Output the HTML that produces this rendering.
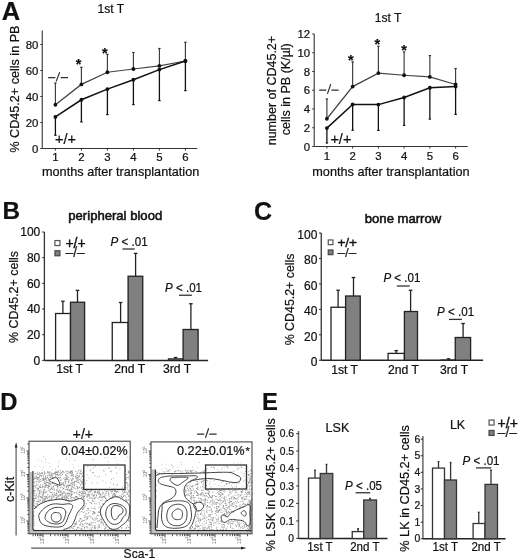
<!DOCTYPE html>
<html><head><meta charset="utf-8"><style>
html,body{margin:0;padding:0;background:#fff;}
svg{display:block;filter:blur(0.35px);font-family:"Liberation Sans",sans-serif;}
text{stroke:#111;stroke-width:0.22px;}
</style></head><body>
<svg width="520" height="560" viewBox="0 0 520 560" font-family="Liberation Sans, sans-serif"><text x="1.80" y="20.30" font-size="25.5" text-anchor="start" font-weight="bold" fill="#111"  >A</text>
<text x="2.50" y="218.50" font-size="24.3" text-anchor="start" font-weight="bold" fill="#111"  >B</text>
<text x="254.00" y="220.00" font-size="25" text-anchor="start" font-weight="bold" fill="#111"  >C</text>
<text x="0.30" y="409.60" font-size="23.8" text-anchor="start" font-weight="bold" fill="#111"  >D</text>
<text x="261.90" y="409.60" font-size="23.8" text-anchor="start" font-weight="bold" fill="#111"  >E</text>
<line x1="42.25" y1="30.60" x2="42.25" y2="148.50" stroke="#333" stroke-width="1.1" />
<line x1="42.25" y1="148.50" x2="197.25" y2="148.50" stroke="#333" stroke-width="1.1" />
<line x1="40.25" y1="148.50" x2="42.25" y2="148.50" stroke="#333" stroke-width="1" />
<text x="38.30" y="152.50" font-size="11.4" text-anchor="end" font-weight="normal" fill="#111"  >0</text>
<line x1="40.25" y1="122.50" x2="42.25" y2="122.50" stroke="#333" stroke-width="1" />
<text x="38.30" y="126.50" font-size="11.4" text-anchor="end" font-weight="normal" fill="#111"  >20</text>
<line x1="40.25" y1="96.50" x2="42.25" y2="96.50" stroke="#333" stroke-width="1" />
<text x="38.30" y="100.50" font-size="11.4" text-anchor="end" font-weight="normal" fill="#111"  >40</text>
<line x1="40.25" y1="70.50" x2="42.25" y2="70.50" stroke="#333" stroke-width="1" />
<text x="38.30" y="74.50" font-size="11.4" text-anchor="end" font-weight="normal" fill="#111"  >60</text>
<line x1="40.25" y1="44.50" x2="42.25" y2="44.50" stroke="#333" stroke-width="1" />
<text x="38.30" y="48.50" font-size="11.4" text-anchor="end" font-weight="normal" fill="#111"  >80</text>
<line x1="55.40" y1="148.50" x2="55.40" y2="150.50" stroke="#333" stroke-width="1" />
<text x="55.40" y="161.40" font-size="11.4" text-anchor="middle" font-weight="normal" fill="#111"  >1</text>
<line x1="81.40" y1="148.50" x2="81.40" y2="150.50" stroke="#333" stroke-width="1" />
<text x="81.40" y="161.40" font-size="11.4" text-anchor="middle" font-weight="normal" fill="#111"  >2</text>
<line x1="107.40" y1="148.50" x2="107.40" y2="150.50" stroke="#333" stroke-width="1" />
<text x="107.40" y="161.40" font-size="11.4" text-anchor="middle" font-weight="normal" fill="#111"  >3</text>
<line x1="133.40" y1="148.50" x2="133.40" y2="150.50" stroke="#333" stroke-width="1" />
<text x="133.40" y="161.40" font-size="11.4" text-anchor="middle" font-weight="normal" fill="#111"  >4</text>
<line x1="159.40" y1="148.50" x2="159.40" y2="150.50" stroke="#333" stroke-width="1" />
<text x="159.40" y="161.40" font-size="11.4" text-anchor="middle" font-weight="normal" fill="#111"  >5</text>
<line x1="185.40" y1="148.50" x2="185.40" y2="150.50" stroke="#333" stroke-width="1" />
<text x="185.40" y="161.40" font-size="11.4" text-anchor="middle" font-weight="normal" fill="#111"  >6</text>
<text x="42.00" y="175.60" font-size="12.7" text-anchor="start" font-weight="normal" fill="#111"  >months after transplantation</text>
<text transform="translate(18.80,89.10) rotate(-90)" font-size="12.6" text-anchor="middle" fill="#111">% CD45.2+ cells in PB</text>
<text x="97.60" y="12.90" font-size="12.1" text-anchor="start" font-weight="normal" fill="#111"  >1st T</text>
<line x1="55.40" y1="104.75" x2="55.40" y2="83.00" stroke="#3a3a3a" stroke-width="1.15" />
<line x1="54.20" y1="83.00" x2="56.60" y2="83.00" stroke="#333" stroke-width="1.2" />
<line x1="55.40" y1="116.90" x2="55.40" y2="135.25" stroke="#111" stroke-width="1.3" />
<line x1="54.20" y1="135.25" x2="56.60" y2="135.25" stroke="#111" stroke-width="1.2" />
<line x1="81.40" y1="84.40" x2="81.40" y2="67.30" stroke="#3a3a3a" stroke-width="1.15" />
<line x1="80.20" y1="67.30" x2="82.60" y2="67.30" stroke="#333" stroke-width="1.2" />
<line x1="81.40" y1="99.75" x2="81.40" y2="121.90" stroke="#111" stroke-width="1.3" />
<line x1="80.20" y1="121.90" x2="82.60" y2="121.90" stroke="#111" stroke-width="1.2" />
<line x1="107.40" y1="72.25" x2="107.40" y2="54.40" stroke="#3a3a3a" stroke-width="1.15" />
<line x1="106.20" y1="54.40" x2="108.60" y2="54.40" stroke="#333" stroke-width="1.2" />
<line x1="107.40" y1="89.10" x2="107.40" y2="114.60" stroke="#111" stroke-width="1.3" />
<line x1="106.20" y1="114.60" x2="108.60" y2="114.60" stroke="#111" stroke-width="1.2" />
<line x1="133.40" y1="69.00" x2="133.40" y2="52.50" stroke="#3a3a3a" stroke-width="1.15" />
<line x1="132.20" y1="52.50" x2="134.60" y2="52.50" stroke="#333" stroke-width="1.2" />
<line x1="133.40" y1="79.75" x2="133.40" y2="104.60" stroke="#111" stroke-width="1.3" />
<line x1="132.20" y1="104.60" x2="134.60" y2="104.60" stroke="#111" stroke-width="1.2" />
<line x1="159.40" y1="65.90" x2="159.40" y2="48.50" stroke="#3a3a3a" stroke-width="1.15" />
<line x1="158.20" y1="48.50" x2="160.60" y2="48.50" stroke="#333" stroke-width="1.2" />
<line x1="159.40" y1="69.60" x2="159.40" y2="100.60" stroke="#111" stroke-width="1.3" />
<line x1="158.20" y1="100.60" x2="160.60" y2="100.60" stroke="#111" stroke-width="1.2" />
<line x1="185.40" y1="61.00" x2="185.40" y2="42.25" stroke="#3a3a3a" stroke-width="1.15" />
<line x1="184.20" y1="42.25" x2="186.60" y2="42.25" stroke="#333" stroke-width="1.2" />
<line x1="185.40" y1="61.00" x2="185.40" y2="90.60" stroke="#111" stroke-width="1.3" />
<line x1="184.20" y1="90.60" x2="186.60" y2="90.60" stroke="#111" stroke-width="1.2" />
<polyline fill="none" stroke="#444" stroke-width="1.25" points="55.40,104.75 81.40,84.40 107.40,72.25 133.40,69.00 159.40,65.90 185.40,61.00"/>
<polyline fill="none" stroke="#111" stroke-width="1.5" points="55.40,116.90 81.40,99.75 107.40,89.10 133.40,79.75 159.40,69.60 185.40,61.00"/>
<circle cx="55.40" cy="104.75" r="1.9" fill="#111"/>
<circle cx="55.40" cy="116.90" r="1.9" fill="#111"/>
<circle cx="81.40" cy="84.40" r="1.9" fill="#111"/>
<circle cx="81.40" cy="99.75" r="1.9" fill="#111"/>
<circle cx="107.40" cy="72.25" r="1.9" fill="#111"/>
<circle cx="107.40" cy="89.10" r="1.9" fill="#111"/>
<circle cx="133.40" cy="69.00" r="1.9" fill="#111"/>
<circle cx="133.40" cy="79.75" r="1.9" fill="#111"/>
<circle cx="159.40" cy="65.90" r="1.9" fill="#111"/>
<circle cx="159.40" cy="69.60" r="1.9" fill="#111"/>
<circle cx="185.40" cy="61.00" r="1.9" fill="#111"/>
<circle cx="185.40" cy="61.00" r="1.9" fill="#111"/>
<text x="78.65" y="69.16" font-size="14.5" text-anchor="middle" font-weight="bold" fill="#111"  >*</text>
<text x="104.90" y="57.66" font-size="14.5" text-anchor="middle" font-weight="bold" fill="#111"  >*</text>
<path d="M48.1,77.5H55.3M60.6,77.5H68.0" stroke="#2e2e2e" stroke-width="1.25" fill="none"/>
<path d="M56.4,80.9L59.5,72.6" stroke="#2e2e2e" stroke-width="1.1875" fill="none" stroke-linecap="round"/>
<text x="55.10" y="144.20" font-size="14.5" text-anchor="start" font-weight="normal" fill="#111"  >+/+</text>
<line x1="314.20" y1="34.00" x2="314.20" y2="146.50" stroke="#333" stroke-width="1.1" />
<line x1="314.20" y1="146.50" x2="467.75" y2="146.50" stroke="#333" stroke-width="1.1" />
<line x1="312.20" y1="146.50" x2="314.20" y2="146.50" stroke="#333" stroke-width="1" />
<text x="310.10" y="150.50" font-size="11.4" text-anchor="end" font-weight="normal" fill="#111"  >0</text>
<line x1="312.20" y1="127.75" x2="314.20" y2="127.75" stroke="#333" stroke-width="1" />
<text x="310.10" y="131.75" font-size="11.4" text-anchor="end" font-weight="normal" fill="#111"  >2</text>
<line x1="312.20" y1="109.00" x2="314.20" y2="109.00" stroke="#333" stroke-width="1" />
<text x="310.10" y="113.00" font-size="11.4" text-anchor="end" font-weight="normal" fill="#111"  >4</text>
<line x1="312.20" y1="90.25" x2="314.20" y2="90.25" stroke="#333" stroke-width="1" />
<text x="310.10" y="94.25" font-size="11.4" text-anchor="end" font-weight="normal" fill="#111"  >6</text>
<line x1="312.20" y1="71.50" x2="314.20" y2="71.50" stroke="#333" stroke-width="1" />
<text x="310.10" y="75.50" font-size="11.4" text-anchor="end" font-weight="normal" fill="#111"  >8</text>
<line x1="312.20" y1="52.75" x2="314.20" y2="52.75" stroke="#333" stroke-width="1" />
<text x="310.10" y="56.75" font-size="11.4" text-anchor="end" font-weight="normal" fill="#111"  >10</text>
<line x1="312.20" y1="34.00" x2="314.20" y2="34.00" stroke="#333" stroke-width="1" />
<text x="310.10" y="38.00" font-size="11.4" text-anchor="end" font-weight="normal" fill="#111"  >12</text>
<line x1="326.90" y1="146.50" x2="326.90" y2="148.50" stroke="#333" stroke-width="1" />
<text x="326.90" y="160.30" font-size="11.4" text-anchor="middle" font-weight="normal" fill="#111"  >1</text>
<line x1="352.64" y1="146.50" x2="352.64" y2="148.50" stroke="#333" stroke-width="1" />
<text x="352.64" y="160.30" font-size="11.4" text-anchor="middle" font-weight="normal" fill="#111"  >2</text>
<line x1="378.38" y1="146.50" x2="378.38" y2="148.50" stroke="#333" stroke-width="1" />
<text x="378.38" y="160.30" font-size="11.4" text-anchor="middle" font-weight="normal" fill="#111"  >3</text>
<line x1="404.12" y1="146.50" x2="404.12" y2="148.50" stroke="#333" stroke-width="1" />
<text x="404.12" y="160.30" font-size="11.4" text-anchor="middle" font-weight="normal" fill="#111"  >4</text>
<line x1="429.86" y1="146.50" x2="429.86" y2="148.50" stroke="#333" stroke-width="1" />
<text x="429.86" y="160.30" font-size="11.4" text-anchor="middle" font-weight="normal" fill="#111"  >5</text>
<line x1="455.60" y1="146.50" x2="455.60" y2="148.50" stroke="#333" stroke-width="1" />
<text x="455.60" y="160.30" font-size="11.4" text-anchor="middle" font-weight="normal" fill="#111"  >6</text>
<text x="312.30" y="175.60" font-size="12.7" text-anchor="start" font-weight="normal" fill="#111"  >months after transplantation</text>
<text transform="translate(275.50,90.60) rotate(-90)" font-size="12.5" text-anchor="middle" fill="#111">number of CD45.2+</text>
<text transform="translate(289.50,89.20) rotate(-90)" font-size="12.5" text-anchor="middle" fill="#111">cells in PB (K/µl)</text>
<text x="374.80" y="22.40" font-size="12.1" text-anchor="start" font-weight="normal" fill="#111"  >1st T</text>
<line x1="326.90" y1="118.75" x2="326.90" y2="99.00" stroke="#3a3a3a" stroke-width="1.15" />
<line x1="325.70" y1="99.00" x2="328.10" y2="99.00" stroke="#333" stroke-width="1.2" />
<line x1="326.90" y1="128.10" x2="326.90" y2="143.00" stroke="#111" stroke-width="1.3" />
<line x1="325.70" y1="143.00" x2="328.10" y2="143.00" stroke="#111" stroke-width="1.2" />
<line x1="352.64" y1="86.60" x2="352.64" y2="61.90" stroke="#3a3a3a" stroke-width="1.15" />
<line x1="351.44" y1="61.90" x2="353.84" y2="61.90" stroke="#333" stroke-width="1.2" />
<line x1="352.64" y1="104.40" x2="352.64" y2="130.25" stroke="#111" stroke-width="1.3" />
<line x1="351.44" y1="130.25" x2="353.84" y2="130.25" stroke="#111" stroke-width="1.2" />
<line x1="378.38" y1="73.10" x2="378.38" y2="46.25" stroke="#3a3a3a" stroke-width="1.15" />
<line x1="377.18" y1="46.25" x2="379.58" y2="46.25" stroke="#333" stroke-width="1.2" />
<line x1="378.38" y1="104.60" x2="378.38" y2="130.40" stroke="#111" stroke-width="1.3" />
<line x1="377.18" y1="130.40" x2="379.58" y2="130.40" stroke="#111" stroke-width="1.2" />
<line x1="404.12" y1="75.25" x2="404.12" y2="51.90" stroke="#3a3a3a" stroke-width="1.15" />
<line x1="402.92" y1="51.90" x2="405.32" y2="51.90" stroke="#333" stroke-width="1.2" />
<line x1="404.12" y1="97.50" x2="404.12" y2="125.40" stroke="#111" stroke-width="1.3" />
<line x1="402.92" y1="125.40" x2="405.32" y2="125.40" stroke="#111" stroke-width="1.2" />
<line x1="429.86" y1="76.90" x2="429.86" y2="55.60" stroke="#3a3a3a" stroke-width="1.15" />
<line x1="428.66" y1="55.60" x2="431.06" y2="55.60" stroke="#333" stroke-width="1.2" />
<line x1="429.86" y1="87.75" x2="429.86" y2="119.10" stroke="#111" stroke-width="1.3" />
<line x1="428.66" y1="119.10" x2="431.06" y2="119.10" stroke="#111" stroke-width="1.2" />
<line x1="455.60" y1="84.50" x2="455.60" y2="68.50" stroke="#3a3a3a" stroke-width="1.15" />
<line x1="454.40" y1="68.50" x2="456.80" y2="68.50" stroke="#333" stroke-width="1.2" />
<line x1="455.60" y1="86.50" x2="455.60" y2="114.40" stroke="#111" stroke-width="1.3" />
<line x1="454.40" y1="114.40" x2="456.80" y2="114.40" stroke="#111" stroke-width="1.2" />
<polyline fill="none" stroke="#444" stroke-width="1.25" points="326.90,118.75 352.64,86.60 378.38,73.10 404.12,75.25 429.86,76.90 455.60,84.50"/>
<polyline fill="none" stroke="#111" stroke-width="1.5" points="326.90,128.10 352.64,104.40 378.38,104.60 404.12,97.50 429.86,87.75 455.60,86.50"/>
<circle cx="326.90" cy="118.75" r="1.9" fill="#111"/>
<circle cx="326.90" cy="128.10" r="1.9" fill="#111"/>
<circle cx="352.64" cy="86.60" r="1.9" fill="#111"/>
<circle cx="352.64" cy="104.40" r="1.9" fill="#111"/>
<circle cx="378.38" cy="73.10" r="1.9" fill="#111"/>
<circle cx="378.38" cy="104.60" r="1.9" fill="#111"/>
<circle cx="404.12" cy="75.25" r="1.9" fill="#111"/>
<circle cx="404.12" cy="97.50" r="1.9" fill="#111"/>
<circle cx="429.86" cy="76.90" r="1.9" fill="#111"/>
<circle cx="429.86" cy="87.75" r="1.9" fill="#111"/>
<circle cx="455.60" cy="84.50" r="1.9" fill="#111"/>
<circle cx="455.60" cy="86.50" r="1.9" fill="#111"/>
<text x="350.80" y="64.66" font-size="14.5" text-anchor="middle" font-weight="bold" fill="#111"  >*</text>
<text x="377.40" y="48.66" font-size="14.5" text-anchor="middle" font-weight="bold" fill="#111"  >*</text>
<text x="404.00" y="54.66" font-size="14.5" text-anchor="middle" font-weight="bold" fill="#111"  >*</text>
<path d="M319.2,90.0H326.3M331.4,90.0H338.6" stroke="#2e2e2e" stroke-width="1.25" fill="none"/>
<path d="M327.6,93.4L330.6,84.6" stroke="#2e2e2e" stroke-width="1.1875" fill="none" stroke-linecap="round"/>
<text x="330.40" y="144.10" font-size="14.5" text-anchor="start" font-weight="normal" fill="#111"  >+/+</text>
<line x1="44.40" y1="232.00" x2="44.40" y2="360.40" stroke="#333" stroke-width="1.3" />
<line x1="44.40" y1="360.40" x2="208.10" y2="360.40" stroke="#222" stroke-width="1.5" />
<line x1="42.20" y1="360.40" x2="44.40" y2="360.40" stroke="#333" stroke-width="1.1" />
<text x="40.30" y="364.66" font-size="12.0" text-anchor="end" font-weight="normal" fill="#111"  >0</text>
<line x1="42.20" y1="334.72" x2="44.40" y2="334.72" stroke="#333" stroke-width="1.1" />
<text x="40.30" y="338.98" font-size="12.0" text-anchor="end" font-weight="normal" fill="#111"  >20</text>
<line x1="42.20" y1="309.04" x2="44.40" y2="309.04" stroke="#333" stroke-width="1.1" />
<text x="40.30" y="313.30" font-size="12.0" text-anchor="end" font-weight="normal" fill="#111"  >40</text>
<line x1="42.20" y1="283.36" x2="44.40" y2="283.36" stroke="#333" stroke-width="1.1" />
<text x="40.30" y="287.62" font-size="12.0" text-anchor="end" font-weight="normal" fill="#111"  >60</text>
<line x1="42.20" y1="257.68" x2="44.40" y2="257.68" stroke="#333" stroke-width="1.1" />
<text x="40.30" y="261.94" font-size="12.0" text-anchor="end" font-weight="normal" fill="#111"  >80</text>
<line x1="42.20" y1="232.00" x2="44.40" y2="232.00" stroke="#333" stroke-width="1.1" />
<text x="40.30" y="236.26" font-size="12.0" text-anchor="end" font-weight="normal" fill="#111"  >100</text>
<line x1="62.90" y1="313.50" x2="62.90" y2="301.25" stroke="#222" stroke-width="1.3" />
<line x1="61.10" y1="301.25" x2="64.70" y2="301.25" stroke="#222" stroke-width="1.3" />
<rect x="55.60" y="313.50" width="14.90" height="46.90" fill="#fff" stroke="#222" stroke-width="1.3"/>
<line x1="77.50" y1="302.25" x2="77.50" y2="290.40" stroke="#222" stroke-width="1.3" />
<line x1="75.70" y1="290.40" x2="79.30" y2="290.40" stroke="#222" stroke-width="1.3" />
<rect x="70.50" y="302.25" width="14.10" height="58.15" fill="#808080" stroke="#222" stroke-width="1.3"/>
<line x1="120.60" y1="322.50" x2="120.60" y2="302.50" stroke="#222" stroke-width="1.3" />
<line x1="118.80" y1="302.50" x2="122.40" y2="302.50" stroke="#222" stroke-width="1.3" />
<rect x="112.25" y="322.50" width="15.85" height="37.90" fill="#fff" stroke="#222" stroke-width="1.3"/>
<line x1="135.60" y1="276.25" x2="135.60" y2="253.40" stroke="#222" stroke-width="1.3" />
<line x1="133.80" y1="253.40" x2="137.40" y2="253.40" stroke="#222" stroke-width="1.3" />
<rect x="128.10" y="276.25" width="14.65" height="84.15" fill="#808080" stroke="#222" stroke-width="1.3"/>
<line x1="175.60" y1="358.90" x2="175.60" y2="357.50" stroke="#222" stroke-width="1.3" />
<line x1="173.80" y1="357.50" x2="177.40" y2="357.50" stroke="#222" stroke-width="1.3" />
<rect x="168.50" y="358.90" width="14.60" height="1.50" fill="#fff" stroke="#222" stroke-width="1.3"/>
<line x1="190.90" y1="329.50" x2="190.90" y2="303.75" stroke="#222" stroke-width="1.3" />
<line x1="189.10" y1="303.75" x2="192.70" y2="303.75" stroke="#222" stroke-width="1.3" />
<rect x="183.10" y="329.50" width="15.00" height="30.90" fill="#808080" stroke="#222" stroke-width="1.3"/>
<text x="56.20" y="372.60" font-size="12.2" text-anchor="start" font-weight="normal" fill="#111"  >1st T</text>
<text x="114.30" y="372.60" font-size="12.2" text-anchor="start" font-weight="normal" fill="#111"  >2nd T</text>
<text x="163.00" y="372.60" font-size="12.2" text-anchor="start" font-weight="normal" fill="#111"  >3rd T</text>
<line x1="321.25" y1="233.00" x2="321.25" y2="360.25" stroke="#333" stroke-width="1.3" />
<line x1="321.25" y1="360.25" x2="483.10" y2="360.25" stroke="#222" stroke-width="1.5" />
<line x1="319.05" y1="360.25" x2="321.25" y2="360.25" stroke="#333" stroke-width="1.1" />
<text x="317.40" y="366.11" font-size="12.0" text-anchor="end" font-weight="normal" fill="#111"  >0</text>
<line x1="319.05" y1="334.80" x2="321.25" y2="334.80" stroke="#333" stroke-width="1.1" />
<text x="317.40" y="340.66" font-size="12.0" text-anchor="end" font-weight="normal" fill="#111"  >20</text>
<line x1="319.05" y1="309.35" x2="321.25" y2="309.35" stroke="#333" stroke-width="1.1" />
<text x="317.40" y="315.21" font-size="12.0" text-anchor="end" font-weight="normal" fill="#111"  >40</text>
<line x1="319.05" y1="283.90" x2="321.25" y2="283.90" stroke="#333" stroke-width="1.1" />
<text x="317.40" y="289.76" font-size="12.0" text-anchor="end" font-weight="normal" fill="#111"  >60</text>
<line x1="319.05" y1="258.45" x2="321.25" y2="258.45" stroke="#333" stroke-width="1.1" />
<text x="317.40" y="264.31" font-size="12.0" text-anchor="end" font-weight="normal" fill="#111"  >80</text>
<line x1="319.05" y1="233.00" x2="321.25" y2="233.00" stroke="#333" stroke-width="1.1" />
<text x="317.40" y="238.86" font-size="12.0" text-anchor="end" font-weight="normal" fill="#111"  >100</text>
<line x1="338.10" y1="307.25" x2="338.10" y2="290.25" stroke="#222" stroke-width="1.3" />
<line x1="336.30" y1="290.25" x2="339.90" y2="290.25" stroke="#222" stroke-width="1.3" />
<rect x="331.00" y="307.25" width="14.60" height="53.00" fill="#fff" stroke="#222" stroke-width="1.3"/>
<line x1="353.50" y1="296.00" x2="353.50" y2="277.50" stroke="#222" stroke-width="1.3" />
<line x1="351.70" y1="277.50" x2="355.30" y2="277.50" stroke="#222" stroke-width="1.3" />
<rect x="345.60" y="296.00" width="14.65" height="64.25" fill="#808080" stroke="#222" stroke-width="1.3"/>
<line x1="396.25" y1="353.40" x2="396.25" y2="350.60" stroke="#222" stroke-width="1.3" />
<line x1="394.45" y1="350.60" x2="398.05" y2="350.60" stroke="#222" stroke-width="1.3" />
<rect x="388.10" y="353.40" width="16.30" height="6.85" fill="#fff" stroke="#222" stroke-width="1.3"/>
<line x1="410.60" y1="311.50" x2="410.60" y2="290.25" stroke="#222" stroke-width="1.3" />
<line x1="408.80" y1="290.25" x2="412.40" y2="290.25" stroke="#222" stroke-width="1.3" />
<rect x="404.40" y="311.50" width="13.10" height="48.75" fill="#808080" stroke="#222" stroke-width="1.3"/>
<line x1="448.50" y1="360.10" x2="448.50" y2="358.80" stroke="#222" stroke-width="1.3" />
<line x1="446.70" y1="358.80" x2="450.30" y2="358.80" stroke="#222" stroke-width="1.3" />
<rect x="441.00" y="360.10" width="14.25" height="0.15" fill="#fff" stroke="#222" stroke-width="1.3"/>
<line x1="463.10" y1="337.50" x2="463.10" y2="323.50" stroke="#222" stroke-width="1.3" />
<line x1="461.30" y1="323.50" x2="464.90" y2="323.50" stroke="#222" stroke-width="1.3" />
<rect x="455.25" y="337.50" width="15.35" height="22.75" fill="#808080" stroke="#222" stroke-width="1.3"/>
<text x="331.20" y="374.20" font-size="12.2" text-anchor="start" font-weight="normal" fill="#111"  >1st T</text>
<text x="388.00" y="374.20" font-size="12.2" text-anchor="start" font-weight="normal" fill="#111"  >2nd T</text>
<text x="440.00" y="374.20" font-size="12.2" text-anchor="start" font-weight="normal" fill="#111"  >3rd T</text>
<line x1="298.50" y1="431.00" x2="298.50" y2="538.50" stroke="#666" stroke-width="1.5" />
<line x1="298.50" y1="538.50" x2="387.50" y2="538.50" stroke="#222" stroke-width="1.5" />
<line x1="296.30" y1="538.40" x2="298.50" y2="538.40" stroke="#333" stroke-width="1.1" />
<text x="294.00" y="542.06" font-size="10.3" text-anchor="end" font-weight="normal" fill="#111"  >0</text>
<line x1="296.30" y1="520.93" x2="298.50" y2="520.93" stroke="#333" stroke-width="1.1" />
<text x="294.00" y="524.59" font-size="10.3" text-anchor="end" font-weight="normal" fill="#111"  >0.1</text>
<line x1="296.30" y1="503.46" x2="298.50" y2="503.46" stroke="#333" stroke-width="1.1" />
<text x="294.00" y="507.12" font-size="10.3" text-anchor="end" font-weight="normal" fill="#111"  >0.2</text>
<line x1="296.30" y1="485.99" x2="298.50" y2="485.99" stroke="#333" stroke-width="1.1" />
<text x="294.00" y="489.65" font-size="10.3" text-anchor="end" font-weight="normal" fill="#111"  >0.3</text>
<line x1="296.30" y1="468.52" x2="298.50" y2="468.52" stroke="#333" stroke-width="1.1" />
<text x="294.00" y="472.18" font-size="10.3" text-anchor="end" font-weight="normal" fill="#111"  >0.4</text>
<line x1="296.30" y1="451.05" x2="298.50" y2="451.05" stroke="#333" stroke-width="1.1" />
<text x="294.00" y="454.71" font-size="10.3" text-anchor="end" font-weight="normal" fill="#111"  >0.5</text>
<line x1="296.30" y1="433.58" x2="298.50" y2="433.58" stroke="#333" stroke-width="1.1" />
<text x="294.00" y="437.24" font-size="10.3" text-anchor="end" font-weight="normal" fill="#111"  >0.6</text>
<line x1="315.00" y1="478.10" x2="315.00" y2="470.25" stroke="#333" stroke-width="1.3" />
<line x1="314.10" y1="470.25" x2="315.90" y2="470.25" stroke="#333" stroke-width="1.3" />
<rect x="308.50" y="478.10" width="11.75" height="60.40" fill="#fff" stroke="#333" stroke-width="1.3"/>
<line x1="326.50" y1="473.50" x2="326.50" y2="464.40" stroke="#333" stroke-width="1.3" />
<line x1="325.60" y1="464.40" x2="327.40" y2="464.40" stroke="#333" stroke-width="1.3" />
<rect x="320.25" y="473.50" width="12.50" height="65.00" fill="#808080" stroke="#333" stroke-width="1.3"/>
<line x1="358.10" y1="531.60" x2="358.10" y2="528.75" stroke="#333" stroke-width="1.3" />
<line x1="357.20" y1="528.75" x2="359.00" y2="528.75" stroke="#333" stroke-width="1.3" />
<rect x="352.25" y="531.60" width="11.50" height="6.90" fill="#fff" stroke="#333" stroke-width="1.3"/>
<line x1="370.00" y1="500.00" x2="370.00" y2="498.50" stroke="#333" stroke-width="1.3" />
<line x1="369.10" y1="498.50" x2="370.90" y2="498.50" stroke="#333" stroke-width="1.3" />
<rect x="363.75" y="500.00" width="12.75" height="38.50" fill="#808080" stroke="#333" stroke-width="1.3"/>
<text transform="translate(307.20,550.80) scale(0.94,1)" font-size="12.3" fill="#111">1st T</text>
<text transform="translate(350.20,550.80) scale(0.94,1)" font-size="12.3" fill="#111">2nd T</text>
<line x1="422.90" y1="436.00" x2="422.90" y2="538.75" stroke="#666" stroke-width="1.5" />
<line x1="422.90" y1="538.75" x2="505.60" y2="538.75" stroke="#222" stroke-width="1.5" />
<line x1="420.70" y1="538.75" x2="422.90" y2="538.75" stroke="#333" stroke-width="1.1" />
<text x="420.20" y="542.44" font-size="10.4" text-anchor="end" font-weight="normal" fill="#111"  >0</text>
<line x1="420.70" y1="522.15" x2="422.90" y2="522.15" stroke="#333" stroke-width="1.1" />
<text x="420.20" y="525.84" font-size="10.4" text-anchor="end" font-weight="normal" fill="#111"  >1</text>
<line x1="420.70" y1="505.55" x2="422.90" y2="505.55" stroke="#333" stroke-width="1.1" />
<text x="420.20" y="509.24" font-size="10.4" text-anchor="end" font-weight="normal" fill="#111"  >2</text>
<line x1="420.70" y1="488.95" x2="422.90" y2="488.95" stroke="#333" stroke-width="1.1" />
<text x="420.20" y="492.64" font-size="10.4" text-anchor="end" font-weight="normal" fill="#111"  >3</text>
<line x1="420.70" y1="472.35" x2="422.90" y2="472.35" stroke="#333" stroke-width="1.1" />
<text x="420.20" y="476.04" font-size="10.4" text-anchor="end" font-weight="normal" fill="#111"  >4</text>
<line x1="420.70" y1="455.75" x2="422.90" y2="455.75" stroke="#333" stroke-width="1.1" />
<text x="420.20" y="459.44" font-size="10.4" text-anchor="end" font-weight="normal" fill="#111"  >5</text>
<line x1="420.70" y1="439.15" x2="422.90" y2="439.15" stroke="#333" stroke-width="1.1" />
<text x="420.20" y="442.84" font-size="10.4" text-anchor="end" font-weight="normal" fill="#111"  >6</text>
<line x1="438.50" y1="468.10" x2="438.50" y2="461.60" stroke="#333" stroke-width="1.3" />
<line x1="437.60" y1="461.60" x2="439.40" y2="461.60" stroke="#333" stroke-width="1.3" />
<rect x="432.50" y="468.10" width="12.00" height="70.65" fill="#fff" stroke="#333" stroke-width="1.3"/>
<line x1="450.60" y1="480.00" x2="450.60" y2="462.50" stroke="#333" stroke-width="1.3" />
<line x1="449.70" y1="462.50" x2="451.50" y2="462.50" stroke="#333" stroke-width="1.3" />
<rect x="444.50" y="480.00" width="12.00" height="58.75" fill="#808080" stroke="#333" stroke-width="1.3"/>
<line x1="478.75" y1="523.50" x2="478.75" y2="512.25" stroke="#333" stroke-width="1.3" />
<line x1="477.85" y1="512.25" x2="479.65" y2="512.25" stroke="#333" stroke-width="1.3" />
<rect x="473.10" y="523.50" width="11.90" height="15.25" fill="#fff" stroke="#333" stroke-width="1.3"/>
<line x1="491.00" y1="484.40" x2="491.00" y2="470.25" stroke="#333" stroke-width="1.3" />
<line x1="490.10" y1="470.25" x2="491.90" y2="470.25" stroke="#333" stroke-width="1.3" />
<rect x="485.00" y="484.40" width="12.50" height="54.35" fill="#808080" stroke="#333" stroke-width="1.3"/>
<text transform="translate(432.60,550.60) scale(0.94,1)" font-size="12.3" fill="#111">1st T</text>
<text transform="translate(471.40,550.60) scale(0.94,1)" font-size="12.3" fill="#111">2nd T</text>
<text x="68.30" y="220.20" font-size="13.1" text-anchor="start" font-weight="normal" fill="#111"  style="stroke-width:0.55px">peripheral blood</text>
<text x="364.80" y="222.50" font-size="13.1" text-anchor="start" font-weight="normal" fill="#111"  style="stroke-width:0.55px">bone marrow</text>
<text x="325.60" y="432.30" font-size="12.5" text-anchor="start" font-weight="normal" fill="#111"  >LSK</text>
<text x="449.90" y="428.90" font-size="12.5" text-anchor="start" font-weight="normal" fill="#111"  >LK</text>
<text transform="translate(17.60,297.00) rotate(-90)" font-size="12.4" text-anchor="middle" fill="#111">% CD45.2+ cells</text>
<text transform="translate(293.50,299.40) rotate(-90)" font-size="12.4" text-anchor="middle" fill="#111">% CD45.2+ cells</text>
<text transform="translate(274.60,484.70) rotate(-90)" font-size="12.5" text-anchor="middle" fill="#111">% LSK in CD45.2+ cells</text>
<text transform="translate(408.80,488.40) rotate(-90)" font-size="12.7" text-anchor="middle" fill="#111">% LK in CD45.2+ cells</text>
<text transform="translate(110.60,245.60) scale(0.935,1)" font-size="12.4" fill="#111"><tspan font-style="italic">P</tspan> &lt; .01</text>
<line x1="122.50" y1="249.00" x2="134.75" y2="249.00" stroke="#333" stroke-width="1.3" />
<text transform="translate(165.00,292.25) scale(0.935,1)" font-size="12.4" fill="#111"><tspan font-style="italic">P</tspan> &lt; .01</text>
<line x1="179.00" y1="295.25" x2="191.90" y2="295.25" stroke="#333" stroke-width="1.3" />
<text transform="translate(383.40,282.25) scale(0.935,1)" font-size="12.4" fill="#111"><tspan font-style="italic">P</tspan> &lt; .01</text>
<line x1="396.90" y1="286.00" x2="409.75" y2="286.00" stroke="#333" stroke-width="1.3" />
<text transform="translate(437.10,316.00) scale(0.935,1)" font-size="12.4" fill="#111"><tspan font-style="italic">P</tspan> &lt; .01</text>
<line x1="449.00" y1="319.40" x2="461.90" y2="319.40" stroke="#333" stroke-width="1.3" />
<text transform="translate(345.00,490.00) scale(0.935,1)" font-size="12.4" fill="#111"><tspan font-style="italic">P</tspan> &lt; .05</text>
<line x1="355.60" y1="492.75" x2="370.25" y2="492.75" stroke="#333" stroke-width="1.3" />
<text transform="translate(462.50,465.25) scale(0.935,1)" font-size="12.4" fill="#111"><tspan font-style="italic">P</tspan> &lt; .01</text>
<line x1="476.00" y1="467.90" x2="491.25" y2="467.90" stroke="#333" stroke-width="1.3" />
<rect x="54.95" y="240.55" width="5.00" height="5.00" fill="#fff" stroke="#555" stroke-width="1.2"/>
<rect x="54.95" y="250.75" width="5.00" height="5.00" fill="#808080" stroke="#444" stroke-width="1.2"/>
<text x="65.40" y="247.80" font-size="14" text-anchor="start" font-weight="normal" fill="#111"  style="stroke-width:0.4px">+/+</text>
<text x="65.40" y="256.70" font-size="14" text-anchor="start" font-weight="normal" fill="#2a2a2a"  >–/–</text>
<rect x="328.25" y="239.95" width="4.70" height="4.70" fill="#fff" stroke="#555" stroke-width="1.2"/>
<rect x="328.25" y="249.95" width="4.70" height="4.70" fill="#808080" stroke="#444" stroke-width="1.2"/>
<text x="337.40" y="247.20" font-size="13.6" text-anchor="start" font-weight="normal" fill="#111"  style="stroke-width:0.4px">+/+</text>
<text x="337.40" y="256.65" font-size="13.6" text-anchor="start" font-weight="normal" fill="#2a2a2a"  >–/–</text>
<rect x="489.05" y="420.05" width="5.00" height="5.00" fill="#fff" stroke="#555" stroke-width="1.2"/>
<rect x="489.05" y="430.45" width="5.00" height="5.00" fill="#808080" stroke="#444" stroke-width="1.2"/>
<text x="497.60" y="427.70" font-size="14" text-anchor="start" font-weight="normal" fill="#111"  style="stroke-width:0.4px">+/+</text>
<text x="497.60" y="437.20" font-size="14" text-anchor="start" font-weight="normal" fill="#2a2a2a"  >–/–</text>
<path d="M64.4 478.8h0.9v0.9h-0.9zM85.0 492.0h0.9v0.9h-0.9zM38.6 500.7h0.9v0.9h-0.9zM36.6 496.2h0.9v0.9h-0.9zM39.8 475.1h0.9v0.9h-0.9zM45.0 483.2h0.9v0.9h-0.9zM93.9 527.8h0.9v0.9h-0.9zM89.0 493.9h0.9v0.9h-0.9zM127.7 472.4h0.9v0.9h-0.9zM47.0 476.7h0.9v0.9h-0.9zM95.0 492.4h0.9v0.9h-0.9zM38.8 482.2h0.9v0.9h-0.9zM99.0 495.8h0.9v0.9h-0.9zM77.0 487.9h0.9v0.9h-0.9zM83.9 523.3h0.9v0.9h-0.9zM128.1 476.8h0.9v0.9h-0.9zM47.7 499.6h0.9v0.9h-0.9zM100.4 506.1h0.9v0.9h-0.9zM89.2 497.6h0.9v0.9h-0.9zM95.8 530.6h0.9v0.9h-0.9zM35.2 497.9h0.9v0.9h-0.9zM49.3 476.7h0.9v0.9h-0.9zM45.5 484.7h0.9v0.9h-0.9zM40.8 497.1h0.9v0.9h-0.9zM86.3 523.8h0.9v0.9h-0.9zM60.0 495.0h0.9v0.9h-0.9zM125.9 478.8h0.9v0.9h-0.9zM50.1 483.8h0.9v0.9h-0.9zM55.6 499.3h0.9v0.9h-0.9zM33.4 495.3h0.9v0.9h-0.9zM83.0 507.5h0.9v0.9h-0.9zM71.1 494.0h0.9v0.9h-0.9zM39.0 473.6h0.9v0.9h-0.9zM66.0 472.7h0.9v0.9h-0.9zM33.0 478.8h0.9v0.9h-0.9zM42.8 491.9h0.9v0.9h-0.9zM57.5 490.9h0.9v0.9h-0.9zM68.3 477.1h0.9v0.9h-0.9zM115.3 530.6h0.9v0.9h-0.9zM41.3 475.8h0.9v0.9h-0.9zM66.2 485.8h0.9v0.9h-0.9zM84.2 529.7h0.9v0.9h-0.9zM58.3 492.1h0.9v0.9h-0.9zM84.7 517.4h0.9v0.9h-0.9zM65.0 483.2h0.9v0.9h-0.9zM111.7 530.1h0.9v0.9h-0.9zM67.5 471.3h0.9v0.9h-0.9zM35.7 486.7h0.9v0.9h-0.9zM125.8 497.0h0.9v0.9h-0.9zM123.9 530.3h0.9v0.9h-0.9zM125.6 491.9h0.9v0.9h-0.9zM54.4 483.5h0.9v0.9h-0.9zM52.1 482.1h0.9v0.9h-0.9zM93.5 524.9h0.9v0.9h-0.9zM96.3 518.7h0.9v0.9h-0.9zM105.8 498.9h0.9v0.9h-0.9zM127.3 493.8h0.9v0.9h-0.9zM71.9 527.7h0.9v0.9h-0.9zM45.3 478.8h0.9v0.9h-0.9zM84.1 526.9h0.9v0.9h-0.9zM75.1 523.1h0.9v0.9h-0.9zM57.4 487.5h0.9v0.9h-0.9zM58.2 495.3h0.9v0.9h-0.9zM67.3 497.7h0.9v0.9h-0.9zM89.6 525.1h0.9v0.9h-0.9zM73.8 525.9h0.9v0.9h-0.9zM75.7 480.8h0.9v0.9h-0.9zM33.4 518.6h0.9v0.9h-0.9zM49.7 498.6h0.9v0.9h-0.9zM103.3 503.7h0.9v0.9h-0.9zM86.9 517.7h0.9v0.9h-0.9zM57.1 486.5h0.9v0.9h-0.9zM87.5 516.2h0.9v0.9h-0.9zM121.5 496.8h0.9v0.9h-0.9zM92.4 500.6h0.9v0.9h-0.9zM82.7 512.1h0.9v0.9h-0.9zM79.4 527.4h0.9v0.9h-0.9zM100.8 523.4h0.9v0.9h-0.9zM87.3 527.5h0.9v0.9h-0.9zM44.8 496.7h0.9v0.9h-0.9zM40.0 484.3h0.9v0.9h-0.9zM118.6 529.0h0.9v0.9h-0.9zM71.6 499.5h0.9v0.9h-0.9zM129.0 520.7h0.9v0.9h-0.9zM48.7 496.0h0.9v0.9h-0.9zM83.0 490.4h0.9v0.9h-0.9zM52.0 489.1h0.9v0.9h-0.9zM86.7 496.6h0.9v0.9h-0.9zM34.8 489.9h0.9v0.9h-0.9zM93.5 501.0h0.9v0.9h-0.9zM39.2 530.1h0.9v0.9h-0.9zM109.5 529.3h0.9v0.9h-0.9zM43.2 485.8h0.9v0.9h-0.9zM59.2 477.5h0.9v0.9h-0.9zM74.0 525.6h0.9v0.9h-0.9zM88.3 512.6h0.9v0.9h-0.9zM41.7 473.0h0.9v0.9h-0.9zM99.8 495.7h0.9v0.9h-0.9zM94.5 518.8h0.9v0.9h-0.9zM77.0 490.4h0.9v0.9h-0.9zM86.6 526.5h0.9v0.9h-0.9zM59.0 477.4h0.9v0.9h-0.9zM43.6 479.4h0.9v0.9h-0.9zM37.9 481.9h0.9v0.9h-0.9zM63.3 488.3h0.9v0.9h-0.9zM81.5 480.4h0.9v0.9h-0.9zM66.7 470.6h0.9v0.9h-0.9zM57.3 470.4h0.9v0.9h-0.9zM104.1 503.4h0.9v0.9h-0.9zM51.4 498.7h0.9v0.9h-0.9zM112.4 496.1h0.9v0.9h-0.9zM81.0 520.8h0.9v0.9h-0.9zM71.1 500.7h0.9v0.9h-0.9zM99.7 529.9h0.9v0.9h-0.9zM72.3 490.9h0.9v0.9h-0.9zM38.3 477.5h0.9v0.9h-0.9zM57.8 479.5h0.9v0.9h-0.9zM60.3 484.4h0.9v0.9h-0.9zM61.4 497.8h0.9v0.9h-0.9zM48.3 496.9h0.9v0.9h-0.9zM63.0 491.4h0.9v0.9h-0.9zM33.1 493.0h0.9v0.9h-0.9zM33.5 485.7h0.9v0.9h-0.9zM41.7 494.1h0.9v0.9h-0.9zM62.5 483.8h0.9v0.9h-0.9zM89.8 502.0h0.9v0.9h-0.9zM102.5 523.6h0.9v0.9h-0.9zM70.8 489.6h0.9v0.9h-0.9zM128.5 478.7h0.9v0.9h-0.9zM81.9 520.8h0.9v0.9h-0.9zM89.7 524.4h0.9v0.9h-0.9zM99.2 512.1h0.9v0.9h-0.9zM55.3 471.4h0.9v0.9h-0.9zM45.9 491.7h0.9v0.9h-0.9zM87.2 508.1h0.9v0.9h-0.9zM93.7 511.4h0.9v0.9h-0.9zM80.5 469.7h0.9v0.9h-0.9zM40.2 485.8h0.9v0.9h-0.9zM104.8 529.5h0.9v0.9h-0.9zM80.9 493.0h0.9v0.9h-0.9zM79.5 511.5h0.9v0.9h-0.9zM47.3 485.1h0.9v0.9h-0.9zM38.9 486.0h0.9v0.9h-0.9zM98.2 512.1h0.9v0.9h-0.9zM83.1 498.1h0.9v0.9h-0.9zM78.2 476.8h0.9v0.9h-0.9zM127.9 527.1h0.9v0.9h-0.9zM34.7 497.7h0.9v0.9h-0.9zM76.6 486.0h0.9v0.9h-0.9zM125.4 477.7h0.9v0.9h-0.9zM80.2 471.0h0.9v0.9h-0.9zM33.3 499.7h0.9v0.9h-0.9zM76.7 488.1h0.9v0.9h-0.9zM46.6 490.7h0.9v0.9h-0.9zM33.2 515.7h0.9v0.9h-0.9zM69.1 493.7h0.9v0.9h-0.9zM129.9 505.7h0.9v0.9h-0.9zM68.0 495.8h0.9v0.9h-0.9zM59.7 472.5h0.9v0.9h-0.9zM57.2 485.8h0.9v0.9h-0.9zM82.6 481.2h0.9v0.9h-0.9zM69.2 528.3h0.9v0.9h-0.9zM94.2 525.7h0.9v0.9h-0.9zM104.0 497.2h0.9v0.9h-0.9zM60.8 472.5h0.9v0.9h-0.9zM78.8 490.6h0.9v0.9h-0.9zM127.7 485.5h0.9v0.9h-0.9zM87.1 493.8h0.9v0.9h-0.9zM49.2 479.4h0.9v0.9h-0.9zM81.2 483.0h0.9v0.9h-0.9zM120.9 530.8h0.9v0.9h-0.9zM76.6 478.1h0.9v0.9h-0.9zM51.7 475.1h0.9v0.9h-0.9zM66.2 475.1h0.9v0.9h-0.9zM56.2 485.4h0.9v0.9h-0.9zM88.3 524.1h0.9v0.9h-0.9zM105.7 494.9h0.9v0.9h-0.9zM69.6 490.3h0.9v0.9h-0.9zM39.0 486.6h0.9v0.9h-0.9zM126.9 477.2h0.9v0.9h-0.9zM81.8 508.2h0.9v0.9h-0.9zM59.3 484.8h0.9v0.9h-0.9zM71.8 496.9h0.9v0.9h-0.9zM71.0 526.5h0.9v0.9h-0.9zM127.3 484.8h0.9v0.9h-0.9zM43.6 479.0h0.9v0.9h-0.9zM83.7 511.4h0.9v0.9h-0.9zM95.8 516.5h0.9v0.9h-0.9zM45.4 485.0h0.9v0.9h-0.9zM94.7 512.5h0.9v0.9h-0.9zM43.9 473.8h0.9v0.9h-0.9zM83.9 505.3h0.9v0.9h-0.9zM70.6 483.3h0.9v0.9h-0.9zM62.2 497.8h0.9v0.9h-0.9zM55.8 484.7h0.9v0.9h-0.9zM62.8 470.8h0.9v0.9h-0.9zM81.3 511.0h0.9v0.9h-0.9zM73.7 485.3h0.9v0.9h-0.9zM97.7 526.4h0.9v0.9h-0.9zM55.0 471.6h0.9v0.9h-0.9zM65.8 495.4h0.9v0.9h-0.9zM82.0 482.1h0.9v0.9h-0.9zM127.1 488.7h0.9v0.9h-0.9zM81.1 481.0h0.9v0.9h-0.9zM54.7 495.1h0.9v0.9h-0.9zM97.5 527.8h0.9v0.9h-0.9zM47.2 493.7h0.9v0.9h-0.9zM46.8 472.7h0.9v0.9h-0.9zM38.8 493.7h0.9v0.9h-0.9zM104.1 530.8h0.9v0.9h-0.9zM123.4 489.7h0.9v0.9h-0.9zM97.4 492.8h0.9v0.9h-0.9zM69.3 489.9h0.9v0.9h-0.9zM60.1 491.1h0.9v0.9h-0.9zM125.7 477.1h0.9v0.9h-0.9zM126.5 482.3h0.9v0.9h-0.9zM112.7 496.1h0.9v0.9h-0.9zM37.8 498.6h0.9v0.9h-0.9zM51.7 491.9h0.9v0.9h-0.9zM36.4 473.3h0.9v0.9h-0.9zM105.5 524.8h0.9v0.9h-0.9zM65.9 486.2h0.9v0.9h-0.9zM63.7 486.5h0.9v0.9h-0.9zM33.4 516.0h0.9v0.9h-0.9zM55.7 498.7h0.9v0.9h-0.9zM125.8 528.2h0.9v0.9h-0.9zM70.5 484.9h0.9v0.9h-0.9zM74.7 499.8h0.9v0.9h-0.9zM91.9 489.7h0.9v0.9h-0.9zM64.0 491.8h0.9v0.9h-0.9zM57.0 473.5h0.9v0.9h-0.9zM36.3 503.5h0.9v0.9h-0.9zM64.6 529.8h0.9v0.9h-0.9zM118.7 530.3h0.9v0.9h-0.9zM58.7 474.7h0.9v0.9h-0.9zM42.4 500.2h0.9v0.9h-0.9zM101.8 497.0h0.9v0.9h-0.9zM55.7 495.1h0.9v0.9h-0.9zM93.2 511.0h0.9v0.9h-0.9zM88.0 492.4h0.9v0.9h-0.9zM57.0 484.6h0.9v0.9h-0.9zM89.1 489.6h0.9v0.9h-0.9zM71.4 530.5h0.9v0.9h-0.9zM82.2 483.7h0.9v0.9h-0.9zM129.1 475.8h0.9v0.9h-0.9zM79.1 519.9h0.9v0.9h-0.9zM36.9 487.6h0.9v0.9h-0.9zM44.6 481.2h0.9v0.9h-0.9zM123.2 492.4h0.9v0.9h-0.9zM90.8 507.6h0.9v0.9h-0.9zM54.1 492.2h0.9v0.9h-0.9zM46.7 482.0h0.9v0.9h-0.9zM34.1 489.6h0.9v0.9h-0.9zM63.3 482.0h0.9v0.9h-0.9zM39.1 475.7h0.9v0.9h-0.9zM72.7 486.9h0.9v0.9h-0.9zM67.6 495.1h0.9v0.9h-0.9zM116.8 530.8h0.9v0.9h-0.9zM68.3 481.6h0.9v0.9h-0.9zM33.6 525.0h0.9v0.9h-0.9zM77.7 479.5h0.9v0.9h-0.9zM34.4 503.4h0.9v0.9h-0.9zM95.1 525.5h0.9v0.9h-0.9zM69.0 500.5h0.9v0.9h-0.9zM47.2 486.9h0.9v0.9h-0.9zM83.6 526.4h0.9v0.9h-0.9zM43.6 499.7h0.9v0.9h-0.9zM111.1 529.0h0.9v0.9h-0.9zM52.1 477.3h0.9v0.9h-0.9zM124.5 529.5h0.9v0.9h-0.9zM79.8 472.8h0.9v0.9h-0.9zM122.8 493.4h0.9v0.9h-0.9zM54.2 494.1h0.9v0.9h-0.9zM83.2 493.1h0.9v0.9h-0.9zM44.9 484.7h0.9v0.9h-0.9zM103.3 524.7h0.9v0.9h-0.9zM37.0 504.1h0.9v0.9h-0.9zM91.2 503.3h0.9v0.9h-0.9zM76.3 496.5h0.9v0.9h-0.9zM35.3 507.6h0.9v0.9h-0.9zM80.5 484.0h0.9v0.9h-0.9zM77.5 480.5h0.9v0.9h-0.9zM78.9 476.1h0.9v0.9h-0.9zM45.5 496.0h0.9v0.9h-0.9zM41.9 496.7h0.9v0.9h-0.9zM82.5 472.0h0.9v0.9h-0.9zM82.6 472.8h0.9v0.9h-0.9zM81.9 492.7h0.9v0.9h-0.9zM125.2 477.9h0.9v0.9h-0.9zM116.1 530.8h0.9v0.9h-0.9zM80.7 528.3h0.9v0.9h-0.9zM39.4 491.1h0.9v0.9h-0.9zM81.7 526.1h0.9v0.9h-0.9zM53.2 485.7h0.9v0.9h-0.9zM82.1 489.1h0.9v0.9h-0.9zM36.6 480.7h0.9v0.9h-0.9zM98.9 524.6h0.9v0.9h-0.9zM44.2 502.1h0.9v0.9h-0.9zM94.7 491.6h0.9v0.9h-0.9zM89.3 523.8h0.9v0.9h-0.9zM43.1 530.6h0.9v0.9h-0.9zM94.1 493.7h0.9v0.9h-0.9zM129.1 505.0h0.9v0.9h-0.9zM75.9 480.4h0.9v0.9h-0.9zM95.0 530.0h0.9v0.9h-0.9zM89.8 510.3h0.9v0.9h-0.9zM36.3 478.7h0.9v0.9h-0.9zM92.8 496.1h0.9v0.9h-0.9zM82.7 524.6h0.9v0.9h-0.9zM45.8 483.5h0.9v0.9h-0.9zM33.3 491.3h0.9v0.9h-0.9zM43.3 491.5h0.9v0.9h-0.9zM93.5 498.7h0.9v0.9h-0.9zM72.0 485.8h0.9v0.9h-0.9zM87.5 491.0h0.9v0.9h-0.9zM95.6 496.8h0.9v0.9h-0.9zM37.3 502.2h0.9v0.9h-0.9zM72.4 484.1h0.9v0.9h-0.9zM34.2 503.4h0.9v0.9h-0.9zM82.2 509.0h0.9v0.9h-0.9zM63.0 488.0h0.9v0.9h-0.9zM33.6 521.4h0.9v0.9h-0.9zM105.3 498.1h0.9v0.9h-0.9zM105.0 497.3h0.9v0.9h-0.9zM54.9 476.0h0.9v0.9h-0.9zM55.5 471.9h0.9v0.9h-0.9zM100.4 521.5h0.9v0.9h-0.9zM86.7 496.3h0.9v0.9h-0.9zM126.6 482.8h0.9v0.9h-0.9zM105.2 527.6h0.9v0.9h-0.9zM105.4 489.6h0.9v0.9h-0.9zM118.4 489.7h0.9v0.9h-0.9zM94.2 512.1h0.9v0.9h-0.9zM97.5 529.7h0.9v0.9h-0.9zM78.5 521.1h0.9v0.9h-0.9zM100.7 522.2h0.9v0.9h-0.9zM47.0 471.2h0.9v0.9h-0.9zM66.5 478.2h0.9v0.9h-0.9zM100.2 508.5h0.9v0.9h-0.9zM100.6 514.8h0.9v0.9h-0.9zM121.7 527.6h0.9v0.9h-0.9zM43.4 482.2h0.9v0.9h-0.9zM43.9 471.6h0.9v0.9h-0.9zM94.5 520.2h0.9v0.9h-0.9zM42.7 475.5h0.9v0.9h-0.9zM64.0 495.6h0.9v0.9h-0.9zM35.0 485.3h0.9v0.9h-0.9zM68.7 489.2h0.9v0.9h-0.9zM126.5 500.5h0.9v0.9h-0.9zM36.0 494.9h0.9v0.9h-0.9zM33.1 481.9h0.9v0.9h-0.9zM106.9 529.6h0.9v0.9h-0.9zM33.4 499.7h0.9v0.9h-0.9zM80.7 518.5h0.9v0.9h-0.9zM50.9 499.9h0.9v0.9h-0.9zM60.5 482.7h0.9v0.9h-0.9zM100.8 500.1h0.9v0.9h-0.9zM100.6 517.9h0.9v0.9h-0.9zM93.9 491.4h0.9v0.9h-0.9zM71.9 493.8h0.9v0.9h-0.9zM53.0 485.7h0.9v0.9h-0.9zM55.7 497.8h0.9v0.9h-0.9zM84.6 515.9h0.9v0.9h-0.9zM66.8 489.6h0.9v0.9h-0.9zM97.2 515.1h0.9v0.9h-0.9zM49.4 496.5h0.9v0.9h-0.9zM45.2 497.9h0.9v0.9h-0.9zM51.6 488.0h0.9v0.9h-0.9zM101.2 521.4h0.9v0.9h-0.9zM48.0 479.1h0.9v0.9h-0.9zM57.0 489.6h0.9v0.9h-0.9zM83.7 479.4h0.9v0.9h-0.9zM64.8 481.1h0.9v0.9h-0.9zM42.9 493.1h0.9v0.9h-0.9zM128.4 518.4h0.9v0.9h-0.9zM104.1 496.2h0.9v0.9h-0.9zM43.4 482.2h0.9v0.9h-0.9zM70.7 471.6h0.9v0.9h-0.9zM100.3 500.3h0.9v0.9h-0.9zM94.3 498.0h0.9v0.9h-0.9zM121.1 495.9h0.9v0.9h-0.9zM88.7 515.6h0.9v0.9h-0.9zM73.9 483.6h0.9v0.9h-0.9zM103.1 523.6h0.9v0.9h-0.9zM95.2 497.4h0.9v0.9h-0.9zM42.5 495.3h0.9v0.9h-0.9zM74.1 497.5h0.9v0.9h-0.9zM93.3 494.7h0.9v0.9h-0.9zM98.5 526.7h0.9v0.9h-0.9zM108.5 493.4h0.9v0.9h-0.9zM80.5 529.4h0.9v0.9h-0.9zM36.7 502.9h0.9v0.9h-0.9zM85.5 513.6h0.9v0.9h-0.9zM82.7 508.8h0.9v0.9h-0.9zM72.8 527.8h0.9v0.9h-0.9zM44.9 530.0h0.9v0.9h-0.9zM67.5 473.0h0.9v0.9h-0.9zM59.6 494.1h0.9v0.9h-0.9zM34.3 495.2h0.9v0.9h-0.9zM67.2 485.8h0.9v0.9h-0.9zM71.0 482.5h0.9v0.9h-0.9zM78.4 487.6h0.9v0.9h-0.9zM113.9 491.3h0.9v0.9h-0.9zM69.5 485.1h0.9v0.9h-0.9zM74.3 480.9h0.9v0.9h-0.9zM33.3 513.9h0.9v0.9h-0.9zM60.3 484.6h0.9v0.9h-0.9zM62.3 499.0h0.9v0.9h-0.9zM96.9 491.8h0.9v0.9h-0.9zM42.8 478.3h0.9v0.9h-0.9zM66.6 478.9h0.9v0.9h-0.9zM92.0 517.5h0.9v0.9h-0.9zM97.8 524.5h0.9v0.9h-0.9zM84.5 515.1h0.9v0.9h-0.9zM75.5 523.8h0.9v0.9h-0.9zM80.8 473.1h0.9v0.9h-0.9zM78.3 478.4h0.9v0.9h-0.9zM85.3 522.6h0.9v0.9h-0.9zM33.6 521.2h0.9v0.9h-0.9zM97.5 521.2h0.9v0.9h-0.9zM69.4 495.3h0.9v0.9h-0.9zM126.2 474.1h0.9v0.9h-0.9zM94.8 508.6h0.9v0.9h-0.9zM35.8 507.0h0.9v0.9h-0.9zM99.2 526.8h0.9v0.9h-0.9zM65.1 529.9h0.9v0.9h-0.9zM68.5 498.7h0.9v0.9h-0.9zM84.0 516.9h0.9v0.9h-0.9zM53.4 496.3h0.9v0.9h-0.9zM113.3 494.3h0.9v0.9h-0.9zM81.9 486.2h0.9v0.9h-0.9zM82.1 529.5h0.9v0.9h-0.9zM96.5 518.2h0.9v0.9h-0.9zM65.1 489.0h0.9v0.9h-0.9zM94.6 517.7h0.9v0.9h-0.9zM37.8 488.0h0.9v0.9h-0.9zM33.6 481.2h0.9v0.9h-0.9zM96.8 518.0h0.9v0.9h-0.9zM92.8 508.0h0.9v0.9h-0.9zM100.6 506.2h0.9v0.9h-0.9zM97.7 497.7h0.9v0.9h-0.9zM50.6 471.8h0.9v0.9h-0.9zM96.6 492.2h0.9v0.9h-0.9zM62.3 495.4h0.9v0.9h-0.9zM63.9 496.0h0.9v0.9h-0.9zM95.3 526.9h0.9v0.9h-0.9zM38.3 504.4h0.9v0.9h-0.9zM36.8 476.8h0.9v0.9h-0.9zM122.1 497.0h0.9v0.9h-0.9zM34.4 493.3h0.9v0.9h-0.9zM90.4 527.2h0.9v0.9h-0.9zM128.1 498.7h0.9v0.9h-0.9zM73.0 475.8h0.9v0.9h-0.9zM33.5 511.6h0.9v0.9h-0.9zM102.2 522.1h0.9v0.9h-0.9zM94.0 513.1h0.9v0.9h-0.9zM77.7 526.8h0.9v0.9h-0.9zM80.2 473.2h0.9v0.9h-0.9zM94.1 495.2h0.9v0.9h-0.9zM101.2 520.4h0.9v0.9h-0.9zM127.8 520.6h0.9v0.9h-0.9zM74.6 524.1h0.9v0.9h-0.9zM91.4 524.6h0.9v0.9h-0.9zM33.2 485.7h0.9v0.9h-0.9zM99.4 525.7h0.9v0.9h-0.9zM66.6 474.7h0.9v0.9h-0.9zM86.7 518.5h0.9v0.9h-0.9zM91.9 511.2h0.9v0.9h-0.9zM78.1 482.2h0.9v0.9h-0.9zM109.8 497.8h0.9v0.9h-0.9zM89.2 524.7h0.9v0.9h-0.9zM47.5 472.2h0.9v0.9h-0.9zM129.7 492.5h0.9v0.9h-0.9zM90.9 490.7h0.9v0.9h-0.9zM83.4 470.8h0.9v0.9h-0.9zM36.3 530.4h0.9v0.9h-0.9zM108.6 495.7h0.9v0.9h-0.9zM57.6 471.8h0.9v0.9h-0.9zM41.1 472.6h0.9v0.9h-0.9zM87.1 523.0h0.9v0.9h-0.9zM77.5 527.8h0.9v0.9h-0.9zM91.0 493.9h0.9v0.9h-0.9zM95.1 528.3h0.9v0.9h-0.9zM98.0 493.7h0.9v0.9h-0.9zM76.5 479.3h0.9v0.9h-0.9zM126.7 530.5h0.9v0.9h-0.9zM54.5 471.9h0.9v0.9h-0.9zM57.8 491.1h0.9v0.9h-0.9zM95.7 530.1h0.9v0.9h-0.9zM38.4 478.4h0.9v0.9h-0.9zM106.2 527.3h0.9v0.9h-0.9zM90.4 516.1h0.9v0.9h-0.9zM43.2 489.4h0.9v0.9h-0.9zM57.9 477.1h0.9v0.9h-0.9zM79.7 479.9h0.9v0.9h-0.9zM46.6 497.0h0.9v0.9h-0.9zM76.9 490.4h0.9v0.9h-0.9zM54.5 473.0h0.9v0.9h-0.9zM102.2 503.5h0.9v0.9h-0.9zM58.8 494.8h0.9v0.9h-0.9zM48.1 486.2h0.9v0.9h-0.9zM114.4 490.1h0.9v0.9h-0.9zM49.3 499.7h0.9v0.9h-0.9zM79.3 487.1h0.9v0.9h-0.9zM68.3 530.4h0.9v0.9h-0.9zM129.8 526.4h0.9v0.9h-0.9zM42.5 487.3h0.9v0.9h-0.9zM127.9 470.5h0.9v0.9h-0.9zM111.3 490.5h0.9v0.9h-0.9zM51.0 496.3h0.9v0.9h-0.9zM40.7 474.9h0.9v0.9h-0.9zM92.0 500.0h0.9v0.9h-0.9zM59.6 482.2h0.9v0.9h-0.9zM92.4 513.0h0.9v0.9h-0.9zM52.6 473.5h0.9v0.9h-0.9zM104.1 494.6h0.9v0.9h-0.9zM111.6 490.1h0.9v0.9h-0.9zM80.8 470.4h0.9v0.9h-0.9zM68.6 479.6h0.9v0.9h-0.9zM33.5 501.5h0.9v0.9h-0.9zM125.5 499.9h0.9v0.9h-0.9zM126.8 483.3h0.9v0.9h-0.9zM50.7 475.8h0.9v0.9h-0.9zM35.9 475.4h0.9v0.9h-0.9zM34.7 506.4h0.9v0.9h-0.9zM88.9 501.7h0.9v0.9h-0.9zM37.4 477.1h0.9v0.9h-0.9zM60.1 477.0h0.9v0.9h-0.9zM72.3 477.9h0.9v0.9h-0.9zM90.4 522.5h0.9v0.9h-0.9zM70.7 495.4h0.9v0.9h-0.9zM71.4 527.4h0.9v0.9h-0.9zM108.4 490.3h0.9v0.9h-0.9zM56.3 490.1h0.9v0.9h-0.9zM75.3 529.8h0.9v0.9h-0.9zM38.2 501.3h0.9v0.9h-0.9zM125.9 527.0h0.9v0.9h-0.9zM57.2 495.5h0.9v0.9h-0.9zM94.4 491.9h0.9v0.9h-0.9zM35.0 478.1h0.9v0.9h-0.9zM85.6 526.3h0.9v0.9h-0.9zM83.5 496.2h0.9v0.9h-0.9zM125.2 487.2h0.9v0.9h-0.9zM125.7 501.1h0.9v0.9h-0.9zM59.0 498.2h0.9v0.9h-0.9zM45.0 477.6h0.9v0.9h-0.9zM61.5 494.5h0.9v0.9h-0.9zM61.0 484.5h0.9v0.9h-0.9zM41.5 503.1h0.9v0.9h-0.9zM88.3 509.5h0.9v0.9h-0.9zM92.4 498.3h0.9v0.9h-0.9zM63.1 484.4h0.9v0.9h-0.9zM34.2 491.2h0.9v0.9h-0.9zM87.0 499.7h0.9v0.9h-0.9zM60.6 530.2h0.9v0.9h-0.9zM48.4 473.6h0.9v0.9h-0.9zM117.5 496.6h0.9v0.9h-0.9zM39.0 493.4h0.9v0.9h-0.9zM43.6 483.3h0.9v0.9h-0.9zM48.0 490.2h0.9v0.9h-0.9zM92.8 521.8h0.9v0.9h-0.9zM106.7 498.7h0.9v0.9h-0.9zM81.3 528.7h0.9v0.9h-0.9zM88.5 495.2h0.9v0.9h-0.9zM91.9 492.8h0.9v0.9h-0.9zM76.9 497.7h0.9v0.9h-0.9zM70.3 489.3h0.9v0.9h-0.9zM81.5 496.8h0.9v0.9h-0.9zM50.9 488.2h0.9v0.9h-0.9zM122.3 489.4h0.9v0.9h-0.9zM126.0 482.1h0.9v0.9h-0.9zM74.4 525.5h0.9v0.9h-0.9zM87.8 500.1h0.9v0.9h-0.9zM85.2 530.9h0.9v0.9h-0.9zM99.5 493.5h0.9v0.9h-0.9zM98.6 501.8h0.9v0.9h-0.9zM42.6 492.5h0.9v0.9h-0.9zM88.7 523.6h0.9v0.9h-0.9zM126.6 499.4h0.9v0.9h-0.9zM129.6 490.6h0.9v0.9h-0.9zM84.4 519.7h0.9v0.9h-0.9zM49.6 489.1h0.9v0.9h-0.9zM127.9 520.3h0.9v0.9h-0.9zM82.7 476.3h0.9v0.9h-0.9zM112.6 530.4h0.9v0.9h-0.9zM119.1 495.4h0.9v0.9h-0.9zM48.2 487.3h0.9v0.9h-0.9zM94.1 506.6h0.9v0.9h-0.9zM67.3 530.6h0.9v0.9h-0.9zM33.4 488.2h0.9v0.9h-0.9zM84.6 530.8h0.9v0.9h-0.9zM88.7 494.8h0.9v0.9h-0.9zM44.8 479.1h0.9v0.9h-0.9zM42.7 480.0h0.9v0.9h-0.9zM83.7 520.1h0.9v0.9h-0.9zM92.5 519.1h0.9v0.9h-0.9zM102.4 491.3h0.9v0.9h-0.9zM49.4 485.9h0.9v0.9h-0.9zM89.5 491.0h0.9v0.9h-0.9zM76.6 493.2h0.9v0.9h-0.9zM89.5 528.5h0.9v0.9h-0.9zM57.2 472.2h0.9v0.9h-0.9zM91.4 528.5h0.9v0.9h-0.9zM81.1 527.9h0.9v0.9h-0.9zM56.6 493.5h0.9v0.9h-0.9zM80.0 518.3h0.9v0.9h-0.9zM67.8 481.0h0.9v0.9h-0.9zM127.2 487.4h0.9v0.9h-0.9zM84.8 493.2h0.9v0.9h-0.9zM72.1 473.5h0.9v0.9h-0.9zM67.1 484.6h0.9v0.9h-0.9zM51.5 486.9h0.9v0.9h-0.9zM56.0 471.6h0.9v0.9h-0.9zM97.4 490.5h0.9v0.9h-0.9zM42.0 486.1h0.9v0.9h-0.9zM76.0 520.9h0.9v0.9h-0.9zM69.6 528.4h0.9v0.9h-0.9zM82.0 483.5h0.9v0.9h-0.9zM76.9 477.6h0.9v0.9h-0.9zM68.7 484.6h0.9v0.9h-0.9zM70.8 474.8h0.9v0.9h-0.9zM68.1 500.3h0.9v0.9h-0.9zM61.8 473.6h0.9v0.9h-0.9zM63.2 483.4h0.9v0.9h-0.9zM60.4 494.3h0.9v0.9h-0.9zM45.8 486.5h0.9v0.9h-0.9zM97.4 491.1h0.9v0.9h-0.9zM115.1 491.2h0.9v0.9h-0.9zM48.7 481.7h0.9v0.9h-0.9zM62.4 492.9h0.9v0.9h-0.9zM36.8 488.6h0.9v0.9h-0.9zM60.8 472.1h0.9v0.9h-0.9zM37.6 484.5h0.9v0.9h-0.9zM100.4 493.7h0.9v0.9h-0.9zM60.3 475.0h0.9v0.9h-0.9zM124.8 495.6h0.9v0.9h-0.9zM93.9 497.3h0.9v0.9h-0.9zM101.2 519.1h0.9v0.9h-0.9zM38.8 491.5h0.9v0.9h-0.9zM72.9 481.9h0.9v0.9h-0.9zM63.1 477.9h0.9v0.9h-0.9zM56.1 484.4h0.9v0.9h-0.9zM83.0 496.9h0.9v0.9h-0.9zM123.8 491.1h0.9v0.9h-0.9zM86.2 516.3h0.9v0.9h-0.9zM91.1 497.9h0.9v0.9h-0.9zM44.1 487.3h0.9v0.9h-0.9zM68.0 482.2h0.9v0.9h-0.9zM38.9 486.8h0.9v0.9h-0.9zM76.5 476.4h0.9v0.9h-0.9zM64.5 498.3h0.9v0.9h-0.9zM68.2 479.8h0.9v0.9h-0.9zM129.2 515.7h0.9v0.9h-0.9zM43.6 499.6h0.9v0.9h-0.9zM75.1 481.2h0.9v0.9h-0.9zM93.9 527.0h0.9v0.9h-0.9zM56.9 478.0h0.9v0.9h-0.9zM64.7 480.8h0.9v0.9h-0.9zM56.2 472.0h0.9v0.9h-0.9zM88.0 508.1h0.9v0.9h-0.9zM120.8 527.6h0.9v0.9h-0.9zM48.3 487.9h0.9v0.9h-0.9zM76.0 529.1h0.9v0.9h-0.9zM41.7 472.0h0.9v0.9h-0.9zM75.6 481.2h0.9v0.9h-0.9zM109.3 495.7h0.9v0.9h-0.9zM82.9 495.4h0.9v0.9h-0.9zM65.9 496.5h0.9v0.9h-0.9zM97.6 520.3h0.9v0.9h-0.9zM61.7 496.8h0.9v0.9h-0.9zM87.6 490.9h0.9v0.9h-0.9zM52.0 474.7h0.9v0.9h-0.9zM64.4 497.8h0.9v0.9h-0.9zM127.2 525.4h0.9v0.9h-0.9zM116.9 529.4h0.9v0.9h-0.9zM98.6 507.0h0.9v0.9h-0.9zM125.4 499.1h0.9v0.9h-0.9zM35.7 481.1h0.9v0.9h-0.9zM98.8 497.0h0.9v0.9h-0.9zM87.8 493.9h0.9v0.9h-0.9zM44.1 480.6h0.9v0.9h-0.9zM57.6 475.3h0.9v0.9h-0.9zM44.0 501.1h0.9v0.9h-0.9zM72.6 474.0h0.9v0.9h-0.9zM75.6 522.6h0.9v0.9h-0.9zM86.4 513.4h0.9v0.9h-0.9zM71.0 480.0h0.9v0.9h-0.9zM56.0 492.4h0.9v0.9h-0.9zM34.5 506.0h0.9v0.9h-0.9zM53.7 487.9h0.9v0.9h-0.9zM101.6 495.7h0.9v0.9h-0.9zM99.0 520.3h0.9v0.9h-0.9zM44.9 492.4h0.9v0.9h-0.9zM104.5 527.8h0.9v0.9h-0.9zM86.2 518.9h0.9v0.9h-0.9zM51.7 497.0h0.9v0.9h-0.9zM69.9 478.4h0.9v0.9h-0.9zM99.9 519.2h0.9v0.9h-0.9zM125.0 470.3h0.9v0.9h-0.9zM66.2 478.8h0.9v0.9h-0.9zM81.7 523.2h0.9v0.9h-0.9zM98.9 493.6h0.9v0.9h-0.9zM79.1 479.2h0.9v0.9h-0.9zM115.0 493.7h0.9v0.9h-0.9zM40.4 489.8h0.9v0.9h-0.9zM49.5 491.7h0.9v0.9h-0.9zM70.6 491.3h0.9v0.9h-0.9zM33.6 505.1h0.9v0.9h-0.9zM65.4 470.8h0.9v0.9h-0.9zM77.6 530.2h0.9v0.9h-0.9zM37.4 478.5h0.9v0.9h-0.9zM84.2 528.4h0.9v0.9h-0.9zM129.2 471.6h0.9v0.9h-0.9zM87.4 516.9h0.9v0.9h-0.9zM94.4 508.5h0.9v0.9h-0.9zM68.2 486.8h0.9v0.9h-0.9zM104.7 500.8h0.9v0.9h-0.9zM94.6 491.1h0.9v0.9h-0.9zM86.4 494.5h0.9v0.9h-0.9zM38.9 490.2h0.9v0.9h-0.9zM64.4 530.3h0.9v0.9h-0.9zM79.7 492.1h0.9v0.9h-0.9zM66.9 477.8h0.9v0.9h-0.9zM33.7 523.1h0.9v0.9h-0.9zM77.0 496.9h0.9v0.9h-0.9zM49.4 473.6h0.9v0.9h-0.9zM62.2 488.5h0.9v0.9h-0.9zM103.5 503.4h0.9v0.9h-0.9zM123.9 490.4h0.9v0.9h-0.9zM40.8 480.5h0.9v0.9h-0.9zM89.3 530.2h0.9v0.9h-0.9zM74.5 522.9h0.9v0.9h-0.9zM39.6 499.3h0.9v0.9h-0.9zM58.0 470.9h0.9v0.9h-0.9zM49.0 486.0h0.9v0.9h-0.9zM71.8 481.8h0.9v0.9h-0.9zM91.5 522.6h0.9v0.9h-0.9zM104.2 528.7h0.9v0.9h-0.9zM66.1 477.9h0.9v0.9h-0.9zM95.9 494.4h0.9v0.9h-0.9zM98.9 490.3h0.9v0.9h-0.9zM38.6 495.0h0.9v0.9h-0.9zM65.4 499.9h0.9v0.9h-0.9zM77.9 470.3h0.9v0.9h-0.9zM128.8 472.9h0.9v0.9h-0.9zM92.6 514.0h0.9v0.9h-0.9zM64.9 475.2h0.9v0.9h-0.9zM48.2 478.3h0.9v0.9h-0.9zM112.0 495.5h0.9v0.9h-0.9zM85.3 505.7h0.9v0.9h-0.9zM86.8 509.9h0.9v0.9h-0.9zM91.4 489.8h0.9v0.9h-0.9zM107.9 529.6h0.9v0.9h-0.9zM77.0 486.6h0.9v0.9h-0.9zM83.8 527.4h0.9v0.9h-0.9zM108.1 491.8h0.9v0.9h-0.9zM129.0 483.5h0.9v0.9h-0.9zM35.7 477.7h0.9v0.9h-0.9zM38.8 500.4h0.9v0.9h-0.9zM124.2 492.0h0.9v0.9h-0.9zM47.5 480.4h0.9v0.9h-0.9zM104.6 526.2h0.9v0.9h-0.9zM48.7 471.3h0.9v0.9h-0.9zM128.3 500.2h0.9v0.9h-0.9zM94.7 490.7h0.9v0.9h-0.9zM110.7 497.8h0.9v0.9h-0.9zM38.8 504.2h0.9v0.9h-0.9zM72.8 526.0h0.9v0.9h-0.9zM54.7 485.0h0.9v0.9h-0.9zM58.4 496.2h0.9v0.9h-0.9zM62.0 530.7h0.9v0.9h-0.9zM60.4 489.9h0.9v0.9h-0.9zM80.1 524.3h0.9v0.9h-0.9zM91.0 497.4h0.9v0.9h-0.9zM89.2 523.8h0.9v0.9h-0.9zM116.8 530.7h0.9v0.9h-0.9zM61.9 471.0h0.9v0.9h-0.9zM42.5 479.9h0.9v0.9h-0.9zM102.5 523.7h0.9v0.9h-0.9zM128.0 471.5h0.9v0.9h-0.9zM82.0 483.7h0.9v0.9h-0.9zM74.8 475.9h0.9v0.9h-0.9zM34.9 530.4h0.9v0.9h-0.9zM44.7 499.5h0.9v0.9h-0.9zM46.2 495.9h0.9v0.9h-0.9zM81.6 476.4h0.9v0.9h-0.9zM67.3 500.0h0.9v0.9h-0.9zM122.1 491.0h0.9v0.9h-0.9zM59.5 480.4h0.9v0.9h-0.9zM58.7 473.7h0.9v0.9h-0.9zM37.2 500.8h0.9v0.9h-0.9zM99.8 509.7h0.9v0.9h-0.9zM85.8 503.3h0.9v0.9h-0.9zM100.0 529.9h0.9v0.9h-0.9zM71.7 489.1h0.9v0.9h-0.9zM73.7 529.3h0.9v0.9h-0.9zM70.5 493.2h0.9v0.9h-0.9zM72.8 478.3h0.9v0.9h-0.9zM92.0 526.5h0.9v0.9h-0.9zM69.6 484.3h0.9v0.9h-0.9zM52.2 476.6h0.9v0.9h-0.9zM100.3 489.4h0.9v0.9h-0.9zM95.7 503.3h0.9v0.9h-0.9zM33.1 515.4h0.9v0.9h-0.9zM90.5 530.7h0.9v0.9h-0.9zM105.1 492.8h0.9v0.9h-0.9zM102.1 493.7h0.9v0.9h-0.9zM84.0 507.2h0.9v0.9h-0.9zM94.0 502.9h0.9v0.9h-0.9zM78.9 513.9h0.9v0.9h-0.9zM83.6 498.8h0.9v0.9h-0.9zM47.9 485.0h0.9v0.9h-0.9zM43.0 491.4h0.9v0.9h-0.9zM76.9 474.9h0.9v0.9h-0.9zM71.4 530.8h0.9v0.9h-0.9zM100.4 497.1h0.9v0.9h-0.9zM79.4 518.6h0.9v0.9h-0.9zM99.0 492.1h0.9v0.9h-0.9zM83.5 484.1h0.9v0.9h-0.9zM69.0 490.4h0.9v0.9h-0.9zM70.0 470.6h0.9v0.9h-0.9zM38.6 480.5h0.9v0.9h-0.9zM64.4 484.4h0.9v0.9h-0.9zM94.7 522.3h0.9v0.9h-0.9zM52.6 495.5h0.9v0.9h-0.9zM69.0 472.2h0.9v0.9h-0.9zM75.9 492.1h0.9v0.9h-0.9zM111.7 491.2h0.9v0.9h-0.9zM65.0 473.9h0.9v0.9h-0.9zM106.3 492.8h0.9v0.9h-0.9zM84.0 500.0h0.9v0.9h-0.9zM35.5 506.0h0.9v0.9h-0.9zM77.9 497.9h0.9v0.9h-0.9zM114.4 495.0h0.9v0.9h-0.9zM78.9 524.3h0.9v0.9h-0.9zM75.7 499.7h0.9v0.9h-0.9zM82.6 520.2h0.9v0.9h-0.9zM98.0 515.0h0.9v0.9h-0.9zM72.0 472.0h0.9v0.9h-0.9zM98.9 503.6h0.9v0.9h-0.9zM44.5 483.1h0.9v0.9h-0.9zM42.9 474.9h0.9v0.9h-0.9zM102.0 499.2h0.9v0.9h-0.9zM129.8 519.7h0.9v0.9h-0.9zM33.6 530.3h0.9v0.9h-0.9zM59.6 485.6h0.9v0.9h-0.9zM63.4 485.2h0.9v0.9h-0.9zM82.6 495.3h0.9v0.9h-0.9zM38.0 488.2h0.9v0.9h-0.9zM52.6 472.7h0.9v0.9h-0.9zM85.1 492.5h0.9v0.9h-0.9zM89.6 492.0h0.9v0.9h-0.9zM38.0 488.8h0.9v0.9h-0.9zM84.7 494.6h0.9v0.9h-0.9zM77.1 527.0h0.9v0.9h-0.9zM76.2 523.5h0.9v0.9h-0.9zM38.6 496.2h0.9v0.9h-0.9zM98.4 511.0h0.9v0.9h-0.9zM61.6 482.5h0.9v0.9h-0.9zM42.8 475.4h0.9v0.9h-0.9zM109.1 528.0h0.9v0.9h-0.9zM61.5 483.8h0.9v0.9h-0.9zM121.5 489.5h0.9v0.9h-0.9zM110.5 529.8h0.9v0.9h-0.9zM71.0 471.5h0.9v0.9h-0.9zM42.1 498.1h0.9v0.9h-0.9zM103.6 495.9h0.9v0.9h-0.9zM122.6 530.8h0.9v0.9h-0.9zM61.2 490.9h0.9v0.9h-0.9zM105.8 500.0h0.9v0.9h-0.9zM80.0 522.6h0.9v0.9h-0.9zM91.0 502.8h0.9v0.9h-0.9zM41.6 478.1h0.9v0.9h-0.9zM91.1 529.0h0.9v0.9h-0.9zM65.3 497.2h0.9v0.9h-0.9zM61.9 473.8h0.9v0.9h-0.9zM86.5 518.0h0.9v0.9h-0.9zM90.8 497.9h0.9v0.9h-0.9zM36.3 501.1h0.9v0.9h-0.9zM67.2 492.5h0.9v0.9h-0.9zM47.5 475.3h0.9v0.9h-0.9zM44.4 498.3h0.9v0.9h-0.9zM82.2 492.1h0.9v0.9h-0.9zM52.2 494.3h0.9v0.9h-0.9zM52.7 477.3h0.9v0.9h-0.9zM81.7 524.3h0.9v0.9h-0.9zM80.4 518.1h0.9v0.9h-0.9zM88.3 511.9h0.9v0.9h-0.9zM47.9 485.7h0.9v0.9h-0.9zM36.0 493.7h0.9v0.9h-0.9zM83.3 487.5h0.9v0.9h-0.9zM90.7 517.7h0.9v0.9h-0.9zM128.3 472.0h0.9v0.9h-0.9zM93.0 512.0h0.9v0.9h-0.9zM112.0 490.5h0.9v0.9h-0.9zM111.6 497.9h0.9v0.9h-0.9zM124.2 494.8h0.9v0.9h-0.9zM72.5 474.9h0.9v0.9h-0.9zM66.4 478.1h0.9v0.9h-0.9zM52.2 483.0h0.9v0.9h-0.9zM83.9 496.1h0.9v0.9h-0.9zM57.5 486.4h0.9v0.9h-0.9zM71.3 491.0h0.9v0.9h-0.9zM43.2 490.6h0.9v0.9h-0.9zM76.1 496.0h0.9v0.9h-0.9zM37.7 493.7h0.9v0.9h-0.9zM50.8 475.4h0.9v0.9h-0.9zM82.3 492.2h0.9v0.9h-0.9zM71.0 474.5h0.9v0.9h-0.9zM79.1 494.6h0.9v0.9h-0.9zM75.5 496.5h0.9v0.9h-0.9zM63.1 484.4h0.9v0.9h-0.9zM75.1 495.9h0.9v0.9h-0.9zM77.4 479.9h0.9v0.9h-0.9zM82.0 487.5h0.9v0.9h-0.9zM81.2 473.8h0.9v0.9h-0.9zM82.4 496.0h0.9v0.9h-0.9zM45.9 497.7h0.9v0.9h-0.9zM44.8 476.5h0.9v0.9h-0.9zM56.4 477.8h0.9v0.9h-0.9zM68.0 493.4h0.9v0.9h-0.9zM53.0 495.9h0.9v0.9h-0.9zM73.5 492.5h0.9v0.9h-0.9zM81.0 497.3h0.9v0.9h-0.9zM53.7 472.9h0.9v0.9h-0.9zM66.3 497.6h0.9v0.9h-0.9zM50.3 489.6h0.9v0.9h-0.9zM75.7 496.2h0.9v0.9h-0.9zM33.2 486.1h0.9v0.9h-0.9zM33.8 473.6h0.9v0.9h-0.9zM74.4 483.8h0.9v0.9h-0.9zM63.8 485.1h0.9v0.9h-0.9zM50.1 477.1h0.9v0.9h-0.9zM51.0 497.9h0.9v0.9h-0.9zM64.6 479.6h0.9v0.9h-0.9zM37.5 478.9h0.9v0.9h-0.9zM68.8 484.6h0.9v0.9h-0.9zM66.7 496.6h0.9v0.9h-0.9zM39.2 492.5h0.9v0.9h-0.9zM35.1 497.2h0.9v0.9h-0.9zM42.4 479.0h0.9v0.9h-0.9zM81.8 482.0h0.9v0.9h-0.9zM44.4 499.4h0.9v0.9h-0.9zM53.1 486.5h0.9v0.9h-0.9zM81.7 486.7h0.9v0.9h-0.9zM83.4 476.3h0.9v0.9h-0.9zM75.4 475.4h0.9v0.9h-0.9zM59.9 470.0h0.9v0.9h-0.9zM41.9 501.2h0.9v0.9h-0.9zM56.2 496.7h0.9v0.9h-0.9zM45.8 481.6h0.9v0.9h-0.9zM38.1 488.2h0.9v0.9h-0.9zM77.0 487.0h0.9v0.9h-0.9zM78.6 492.0h0.9v0.9h-0.9zM36.9 490.6h0.9v0.9h-0.9zM51.5 491.8h0.9v0.9h-0.9zM65.2 482.4h0.9v0.9h-0.9zM59.6 492.3h0.9v0.9h-0.9zM79.3 486.4h0.9v0.9h-0.9zM35.9 497.5h0.9v0.9h-0.9zM67.9 488.4h0.9v0.9h-0.9zM55.8 494.8h0.9v0.9h-0.9zM78.4 494.1h0.9v0.9h-0.9zM71.2 471.2h0.9v0.9h-0.9zM49.6 474.5h0.9v0.9h-0.9zM40.4 489.4h0.9v0.9h-0.9zM62.4 471.5h0.9v0.9h-0.9zM53.0 494.7h0.9v0.9h-0.9zM65.7 479.3h0.9v0.9h-0.9zM71.9 479.6h0.9v0.9h-0.9zM60.8 483.9h0.9v0.9h-0.9zM82.9 491.4h0.9v0.9h-0.9zM74.1 492.3h0.9v0.9h-0.9zM69.2 492.8h0.9v0.9h-0.9zM47.2 475.3h0.9v0.9h-0.9zM62.3 497.3h0.9v0.9h-0.9zM73.5 481.5h0.9v0.9h-0.9zM40.1 487.0h0.9v0.9h-0.9zM77.7 475.4h0.9v0.9h-0.9zM70.7 475.6h0.9v0.9h-0.9zM48.9 471.8h0.9v0.9h-0.9zM48.2 482.6h0.9v0.9h-0.9zM42.5 480.2h0.9v0.9h-0.9zM81.1 476.5h0.9v0.9h-0.9zM49.4 484.5h0.9v0.9h-0.9zM38.5 478.6h0.9v0.9h-0.9zM53.1 482.7h0.9v0.9h-0.9zM82.1 478.8h0.9v0.9h-0.9zM43.4 500.0h0.9v0.9h-0.9zM56.0 497.6h0.9v0.9h-0.9zM65.5 495.7h0.9v0.9h-0.9zM49.1 475.0h0.9v0.9h-0.9zM71.6 485.5h0.9v0.9h-0.9zM61.5 492.1h0.9v0.9h-0.9zM71.4 479.1h0.9v0.9h-0.9zM60.0 479.5h0.9v0.9h-0.9zM65.1 478.6h0.9v0.9h-0.9zM72.3 471.4h0.9v0.9h-0.9zM75.2 488.7h0.9v0.9h-0.9zM46.5 478.0h0.9v0.9h-0.9zM36.6 488.1h0.9v0.9h-0.9zM71.4 492.4h0.9v0.9h-0.9zM54.0 496.7h0.9v0.9h-0.9zM38.7 480.1h0.9v0.9h-0.9zM65.3 492.8h0.9v0.9h-0.9zM72.5 483.0h0.9v0.9h-0.9zM81.0 494.5h0.9v0.9h-0.9zM50.4 483.0h0.9v0.9h-0.9zM74.1 481.5h0.9v0.9h-0.9zM42.5 498.8h0.9v0.9h-0.9zM60.1 487.2h0.9v0.9h-0.9zM39.8 481.2h0.9v0.9h-0.9zM36.4 483.6h0.9v0.9h-0.9zM58.6 498.1h0.9v0.9h-0.9zM67.1 489.1h0.9v0.9h-0.9zM53.6 488.9h0.9v0.9h-0.9zM47.0 497.9h0.9v0.9h-0.9zM73.2 497.7h0.9v0.9h-0.9zM40.7 492.2h0.9v0.9h-0.9zM71.5 486.5h0.9v0.9h-0.9zM70.9 497.1h0.9v0.9h-0.9zM66.1 499.0h0.9v0.9h-0.9zM39.7 493.2h0.9v0.9h-0.9zM68.9 490.2h0.9v0.9h-0.9zM47.0 472.2h0.9v0.9h-0.9zM63.8 497.2h0.9v0.9h-0.9zM46.9 477.0h0.9v0.9h-0.9zM44.4 473.1h0.9v0.9h-0.9zM73.9 481.9h0.9v0.9h-0.9zM68.7 472.4h0.9v0.9h-0.9zM75.8 480.7h0.9v0.9h-0.9zM33.2 490.8h0.9v0.9h-0.9zM40.1 479.1h0.9v0.9h-0.9zM36.0 484.7h0.9v0.9h-0.9zM61.3 496.6h0.9v0.9h-0.9zM35.0 497.3h0.9v0.9h-0.9zM38.6 477.4h0.9v0.9h-0.9zM65.1 481.2h0.9v0.9h-0.9zM49.9 488.8h0.9v0.9h-0.9zM44.1 496.2h0.9v0.9h-0.9zM43.7 497.7h0.9v0.9h-0.9zM74.2 487.7h0.9v0.9h-0.9zM34.6 495.7h0.9v0.9h-0.9zM34.4 486.7h0.9v0.9h-0.9zM54.6 472.1h0.9v0.9h-0.9zM65.1 493.9h0.9v0.9h-0.9zM62.8 483.2h0.9v0.9h-0.9zM59.1 489.4h0.9v0.9h-0.9zM44.5 498.6h0.9v0.9h-0.9zM83.8 496.5h0.9v0.9h-0.9zM82.0 480.9h0.9v0.9h-0.9zM83.3 472.4h0.9v0.9h-0.9zM57.4 474.4h0.9v0.9h-0.9zM56.2 492.5h0.9v0.9h-0.9zM69.1 485.0h0.9v0.9h-0.9zM50.4 476.3h0.9v0.9h-0.9zM42.9 494.3h0.9v0.9h-0.9zM43.1 493.2h0.9v0.9h-0.9zM43.0 478.8h0.9v0.9h-0.9zM61.6 493.1h0.9v0.9h-0.9zM82.6 494.7h0.9v0.9h-0.9zM69.8 493.7h0.9v0.9h-0.9zM36.2 476.8h0.9v0.9h-0.9zM33.7 498.5h0.9v0.9h-0.9zM69.8 490.8h0.9v0.9h-0.9zM46.5 481.7h0.9v0.9h-0.9zM41.3 490.9h0.9v0.9h-0.9zM83.6 480.1h0.9v0.9h-0.9zM35.3 475.8h0.9v0.9h-0.9zM51.1 499.7h0.9v0.9h-0.9zM74.0 485.0h0.9v0.9h-0.9zM38.2 473.5h0.9v0.9h-0.9zM40.8 495.7h0.9v0.9h-0.9zM79.5 496.2h0.9v0.9h-0.9zM57.3 497.1h0.9v0.9h-0.9zM39.5 473.6h0.9v0.9h-0.9zM61.7 486.8h0.9v0.9h-0.9zM43.7 478.3h0.9v0.9h-0.9zM34.1 500.0h0.9v0.9h-0.9zM83.0 484.4h0.9v0.9h-0.9zM70.4 482.7h0.9v0.9h-0.9zM74.4 497.8h0.9v0.9h-0.9zM43.9 489.3h0.9v0.9h-0.9zM75.3 495.9h0.9v0.9h-0.9zM56.6 471.4h0.9v0.9h-0.9zM78.3 487.6h0.9v0.9h-0.9zM36.6 480.7h0.9v0.9h-0.9zM64.9 499.2h0.9v0.9h-0.9zM57.7 491.1h0.9v0.9h-0.9zM43.5 478.0h0.9v0.9h-0.9zM79.2 482.6h0.9v0.9h-0.9zM38.3 489.5h0.9v0.9h-0.9zM39.4 476.6h0.9v0.9h-0.9zM56.3 489.3h0.9v0.9h-0.9zM65.5 493.3h0.9v0.9h-0.9zM55.4 472.2h0.9v0.9h-0.9zM69.9 471.8h0.9v0.9h-0.9zM67.3 493.6h0.9v0.9h-0.9zM45.2 491.4h0.9v0.9h-0.9zM68.3 485.6h0.9v0.9h-0.9zM40.2 500.0h0.9v0.9h-0.9zM63.6 472.1h0.9v0.9h-0.9zM44.7 482.9h0.9v0.9h-0.9zM73.2 497.2h0.9v0.9h-0.9zM65.3 494.5h0.9v0.9h-0.9zM35.0 473.1h0.9v0.9h-0.9zM82.8 496.5h0.9v0.9h-0.9zM45.3 500.7h0.9v0.9h-0.9zM44.2 492.2h0.9v0.9h-0.9zM80.4 491.1h0.9v0.9h-0.9zM79.9 478.7h0.9v0.9h-0.9zM71.6 473.4h0.9v0.9h-0.9zM82.6 493.4h0.9v0.9h-0.9zM42.5 496.6h0.9v0.9h-0.9zM41.3 486.9h0.9v0.9h-0.9zM38.4 496.0h0.9v0.9h-0.9zM33.1 498.1h0.9v0.9h-0.9zM61.4 497.1h0.9v0.9h-0.9zM58.6 490.5h0.9v0.9h-0.9zM63.3 496.4h0.9v0.9h-0.9zM37.0 471.8h0.9v0.9h-0.9zM60.8 479.6h0.9v0.9h-0.9zM71.0 470.8h0.9v0.9h-0.9zM75.3 496.8h0.9v0.9h-0.9zM56.4 474.0h0.9v0.9h-0.9zM66.2 476.8h0.9v0.9h-0.9zM54.9 473.6h0.9v0.9h-0.9zM82.8 488.0h0.9v0.9h-0.9zM51.0 473.1h0.9v0.9h-0.9zM70.2 498.0h0.9v0.9h-0.9zM76.3 473.3h0.9v0.9h-0.9zM71.9 474.9h0.9v0.9h-0.9zM72.2 470.2h0.9v0.9h-0.9zM36.8 473.8h0.9v0.9h-0.9zM68.3 489.8h0.9v0.9h-0.9zM59.5 485.0h0.9v0.9h-0.9zM53.8 490.2h0.9v0.9h-0.9zM70.4 496.3h0.9v0.9h-0.9zM69.6 471.0h0.9v0.9h-0.9zM67.7 498.0h0.9v0.9h-0.9zM55.0 499.0h0.9v0.9h-0.9zM42.2 501.1h0.9v0.9h-0.9zM55.5 493.3h0.9v0.9h-0.9zM45.9 479.9h0.9v0.9h-0.9zM37.8 484.6h0.9v0.9h-0.9zM83.0 491.6h0.9v0.9h-0.9zM80.5 495.2h0.9v0.9h-0.9zM71.4 479.0h0.9v0.9h-0.9zM45.7 483.6h0.9v0.9h-0.9zM34.1 477.6h0.9v0.9h-0.9zM49.8 495.4h0.9v0.9h-0.9zM73.5 487.6h0.9v0.9h-0.9zM38.3 497.2h0.9v0.9h-0.9zM49.0 490.7h0.9v0.9h-0.9zM51.7 487.7h0.9v0.9h-0.9zM82.2 475.3h0.9v0.9h-0.9zM60.1 491.4h0.9v0.9h-0.9zM37.6 477.0h0.9v0.9h-0.9zM47.7 499.9h0.9v0.9h-0.9zM33.7 478.6h0.9v0.9h-0.9zM42.0 484.5h0.9v0.9h-0.9zM68.0 492.8h0.9v0.9h-0.9zM71.0 494.9h0.9v0.9h-0.9zM45.7 478.5h0.9v0.9h-0.9zM34.4 492.8h0.9v0.9h-0.9zM43.7 478.6h0.9v0.9h-0.9zM82.2 491.2h0.9v0.9h-0.9zM63.1 491.7h0.9v0.9h-0.9zM63.5 492.9h0.9v0.9h-0.9zM48.5 472.1h0.9v0.9h-0.9zM51.4 474.7h0.9v0.9h-0.9zM38.8 486.3h0.9v0.9h-0.9zM82.4 492.7h0.9v0.9h-0.9zM46.9 495.4h0.9v0.9h-0.9zM42.1 473.3h0.9v0.9h-0.9zM48.5 483.5h0.9v0.9h-0.9zM68.2 484.7h0.9v0.9h-0.9zM70.1 473.1h0.9v0.9h-0.9zM80.5 481.3h0.9v0.9h-0.9zM75.4 471.0h0.9v0.9h-0.9zM75.3 477.5h0.9v0.9h-0.9zM76.6 496.5h0.9v0.9h-0.9zM67.2 479.2h0.9v0.9h-0.9zM33.5 476.3h0.9v0.9h-0.9zM79.1 475.2h0.9v0.9h-0.9zM66.6 489.4h0.9v0.9h-0.9zM66.7 476.0h0.9v0.9h-0.9zM40.3 473.2h0.9v0.9h-0.9zM83.1 482.6h0.9v0.9h-0.9zM66.3 488.8h0.9v0.9h-0.9zM44.4 472.1h0.9v0.9h-0.9zM33.8 498.1h0.9v0.9h-0.9zM39.6 501.8h0.9v0.9h-0.9zM51.5 493.8h0.9v0.9h-0.9zM40.1 496.0h0.9v0.9h-0.9zM45.8 482.1h0.9v0.9h-0.9zM59.7 473.7h0.9v0.9h-0.9zM45.7 496.3h0.9v0.9h-0.9zM47.5 482.6h0.9v0.9h-0.9zM72.0 477.4h0.9v0.9h-0.9zM42.9 477.2h0.9v0.9h-0.9zM65.7 485.6h0.9v0.9h-0.9zM77.4 471.7h0.9v0.9h-0.9zM66.8 497.6h0.9v0.9h-0.9zM55.4 473.8h0.9v0.9h-0.9zM56.5 493.5h0.9v0.9h-0.9zM37.8 473.9h0.9v0.9h-0.9zM57.5 475.7h0.9v0.9h-0.9zM44.8 484.5h0.9v0.9h-0.9zM39.0 472.2h0.9v0.9h-0.9zM51.4 485.5h0.9v0.9h-0.9zM80.8 488.3h0.9v0.9h-0.9zM36.6 477.3h0.9v0.9h-0.9zM71.0 488.6h0.9v0.9h-0.9zM76.8 473.6h0.9v0.9h-0.9zM81.1 487.3h0.9v0.9h-0.9zM45.2 475.6h0.9v0.9h-0.9zM77.1 477.0h0.9v0.9h-0.9zM37.2 478.8h0.9v0.9h-0.9zM80.1 485.2h0.9v0.9h-0.9zM70.3 472.5h0.9v0.9h-0.9zM43.5 491.9h0.9v0.9h-0.9zM51.4 474.0h0.9v0.9h-0.9zM83.2 485.9h0.9v0.9h-0.9zM66.3 487.0h0.9v0.9h-0.9zM34.2 485.5h0.9v0.9h-0.9zM70.8 487.7h0.9v0.9h-0.9zM44.9 486.5h0.9v0.9h-0.9zM63.9 491.5h0.9v0.9h-0.9zM40.4 496.5h0.9v0.9h-0.9zM81.2 494.4h0.9v0.9h-0.9zM76.7 482.1h0.9v0.9h-0.9zM79.0 476.0h0.9v0.9h-0.9zM44.6 489.7h0.9v0.9h-0.9zM79.0 472.7h0.9v0.9h-0.9zM44.1 471.2h0.9v0.9h-0.9zM55.4 474.6h0.9v0.9h-0.9zM42.8 494.7h0.9v0.9h-0.9zM53.5 492.4h0.9v0.9h-0.9zM33.6 501.3h0.9v0.9h-0.9zM44.9 485.7h0.9v0.9h-0.9zM64.7 477.1h0.9v0.9h-0.9zM75.5 476.7h0.9v0.9h-0.9zM49.4 483.4h0.9v0.9h-0.9zM50.5 492.1h0.9v0.9h-0.9zM34.2 482.3h0.9v0.9h-0.9zM41.3 497.3h0.9v0.9h-0.9zM33.0 490.0h0.9v0.9h-0.9zM46.2 485.0h0.9v0.9h-0.9zM61.7 493.5h0.9v0.9h-0.9zM90.3 490.9h0.9v0.9h-0.9zM89.5 496.7h0.9v0.9h-0.9zM90.9 490.1h0.9v0.9h-0.9zM108.0 493.7h0.9v0.9h-0.9zM124.8 489.5h0.9v0.9h-0.9zM94.8 490.3h0.9v0.9h-0.9zM110.9 492.6h0.9v0.9h-0.9zM102.8 496.1h0.9v0.9h-0.9zM114.4 495.9h0.9v0.9h-0.9zM128.0 491.2h0.9v0.9h-0.9zM127.3 492.3h0.9v0.9h-0.9zM86.4 496.3h0.9v0.9h-0.9zM97.3 491.3h0.9v0.9h-0.9zM128.5 496.0h0.9v0.9h-0.9zM103.3 493.2h0.9v0.9h-0.9zM123.0 495.5h0.9v0.9h-0.9zM114.1 493.1h0.9v0.9h-0.9zM89.4 490.9h0.9v0.9h-0.9zM114.3 493.7h0.9v0.9h-0.9zM120.8 496.2h0.9v0.9h-0.9zM128.3 490.5h0.9v0.9h-0.9zM87.5 496.2h0.9v0.9h-0.9zM110.2 490.5h0.9v0.9h-0.9zM115.8 491.0h0.9v0.9h-0.9zM94.9 491.9h0.9v0.9h-0.9zM108.1 494.4h0.9v0.9h-0.9zM87.4 494.9h0.9v0.9h-0.9zM112.7 492.8h0.9v0.9h-0.9zM114.9 495.4h0.9v0.9h-0.9zM84.4 492.8h0.9v0.9h-0.9zM115.2 494.7h0.9v0.9h-0.9zM113.8 490.4h0.9v0.9h-0.9zM128.1 495.3h0.9v0.9h-0.9zM94.7 492.4h0.9v0.9h-0.9zM128.1 490.7h0.9v0.9h-0.9zM102.8 496.7h0.9v0.9h-0.9zM125.4 490.9h0.9v0.9h-0.9zM117.8 491.9h0.9v0.9h-0.9zM114.5 495.1h0.9v0.9h-0.9zM89.9 490.8h0.9v0.9h-0.9zM93.9 491.1h0.9v0.9h-0.9zM85.6 490.1h0.9v0.9h-0.9zM102.7 492.4h0.9v0.9h-0.9zM87.6 493.7h0.9v0.9h-0.9zM127.3 493.6h0.9v0.9h-0.9zM100.4 494.6h0.9v0.9h-0.9zM104.1 490.4h0.9v0.9h-0.9zM115.1 490.3h0.9v0.9h-0.9zM101.0 496.7h0.9v0.9h-0.9zM119.3 495.7h0.9v0.9h-0.9zM113.5 494.1h0.9v0.9h-0.9zM116.4 496.7h0.9v0.9h-0.9zM93.0 495.1h0.9v0.9h-0.9zM97.8 491.0h0.9v0.9h-0.9zM121.8 493.8h0.9v0.9h-0.9zM123.1 496.0h0.9v0.9h-0.9zM111.1 490.6h0.9v0.9h-0.9zM84.7 493.3h0.9v0.9h-0.9zM117.4 491.2h0.9v0.9h-0.9zM92.0 494.6h0.9v0.9h-0.9zM84.2 490.8h0.9v0.9h-0.9zM96.2 494.7h0.9v0.9h-0.9zM129.4 489.2h0.9v0.9h-0.9zM89.3 496.5h0.9v0.9h-0.9zM128.6 490.2h0.9v0.9h-0.9zM99.4 493.2h0.9v0.9h-0.9zM98.7 492.3h0.9v0.9h-0.9zM106.0 491.1h0.9v0.9h-0.9zM86.5 489.7h0.9v0.9h-0.9zM91.5 489.7h0.9v0.9h-0.9zM112.7 494.6h0.9v0.9h-0.9zM96.1 495.3h0.9v0.9h-0.9zM117.5 491.7h0.9v0.9h-0.9zM106.6 490.5h0.9v0.9h-0.9zM126.7 493.5h0.9v0.9h-0.9zM86.4 490.2h0.9v0.9h-0.9zM115.9 492.1h0.9v0.9h-0.9zM117.0 490.8h0.9v0.9h-0.9zM120.7 495.4h0.9v0.9h-0.9zM88.3 493.7h0.9v0.9h-0.9z" fill="#3a3a3a" fill-opacity="0.55"/>
<path d="M91.6 482.3h0.85v0.85h-0.85zM116.9 484.3h0.85v0.85h-0.85zM93.3 467.3h0.85v0.85h-0.85zM111.1 478.8h0.85v0.85h-0.85zM89.5 469.7h0.85v0.85h-0.85zM107.8 467.6h0.85v0.85h-0.85zM109.9 470.9h0.85v0.85h-0.85zM94.4 475.3h0.85v0.85h-0.85zM105.7 482.7h0.85v0.85h-0.85zM85.0 482.7h0.85v0.85h-0.85zM92.9 472.1h0.85v0.85h-0.85zM110.1 481.9h0.85v0.85h-0.85zM109.1 487.0h0.85v0.85h-0.85zM92.2 472.6h0.85v0.85h-0.85zM111.1 471.4h0.85v0.85h-0.85zM90.2 470.5h0.85v0.85h-0.85zM115.6 485.2h0.85v0.85h-0.85zM113.3 488.4h0.85v0.85h-0.85zM116.5 472.6h0.85v0.85h-0.85zM96.8 482.6h0.85v0.85h-0.85zM86.0 479.9h0.85v0.85h-0.85zM87.4 466.2h0.85v0.85h-0.85zM104.9 468.7h0.85v0.85h-0.85zM122.2 486.4h0.85v0.85h-0.85zM102.8 469.8h0.85v0.85h-0.85zM88.7 477.4h0.85v0.85h-0.85zM105.3 473.9h0.85v0.85h-0.85zM113.3 477.9h0.85v0.85h-0.85zM115.7 467.6h0.85v0.85h-0.85zM86.6 474.4h0.85v0.85h-0.85zM103.7 471.2h0.85v0.85h-0.85zM111.3 470.4h0.85v0.85h-0.85zM96.9 476.6h0.85v0.85h-0.85zM113.1 483.8h0.85v0.85h-0.85zM99.1 475.9h0.85v0.85h-0.85zM122.0 487.8h0.85v0.85h-0.85zM109.3 467.6h0.85v0.85h-0.85zM102.5 480.5h0.85v0.85h-0.85zM95.2 465.9h0.85v0.85h-0.85zM124.2 487.2h0.85v0.85h-0.85z" fill="#555" fill-opacity="0.6"/>
<path d="M45.5 462.0h0.8v0.8h-0.8zM93.1 459.5h0.8v0.8h-0.8zM39.6 466.3h0.8v0.8h-0.8zM107.8 461.6h0.8v0.8h-0.8zM41.3 460.9h0.8v0.8h-0.8zM42.1 469.5h0.8v0.8h-0.8zM38.0 459.3h0.8v0.8h-0.8zM107.5 457.0h0.8v0.8h-0.8zM43.3 456.1h0.8v0.8h-0.8zM48.9 463.0h0.8v0.8h-0.8zM113.8 457.5h0.8v0.8h-0.8zM49.8 466.5h0.8v0.8h-0.8zM74.3 460.1h0.8v0.8h-0.8zM45.0 458.6h0.8v0.8h-0.8zM127.3 456.8h0.8v0.8h-0.8zM58.2 466.1h0.8v0.8h-0.8zM119.5 468.6h0.8v0.8h-0.8zM78.9 469.3h0.8v0.8h-0.8zM91.6 459.3h0.8v0.8h-0.8zM78.1 465.7h0.8v0.8h-0.8zM104.2 456.9h0.8v0.8h-0.8zM51.8 469.4h0.8v0.8h-0.8zM43.4 467.2h0.8v0.8h-0.8zM65.9 458.7h0.8v0.8h-0.8zM57.8 462.0h0.8v0.8h-0.8zM129.1 457.2h0.8v0.8h-0.8zM115.9 459.8h0.8v0.8h-0.8zM49.8 466.2h0.8v0.8h-0.8zM66.1 457.8h0.8v0.8h-0.8zM73.6 467.3h0.8v0.8h-0.8zM116.7 463.6h0.8v0.8h-0.8zM34.0 466.5h0.8v0.8h-0.8zM91.8 468.5h0.8v0.8h-0.8zM125.3 459.9h0.8v0.8h-0.8zM115.3 467.3h0.8v0.8h-0.8zM58.8 460.5h0.8v0.8h-0.8zM69.3 460.3h0.8v0.8h-0.8zM69.7 456.7h0.8v0.8h-0.8zM55.0 468.6h0.8v0.8h-0.8zM72.8 464.5h0.8v0.8h-0.8z" fill="#777" fill-opacity="0.6"/>
<path d="M29.6,472 H33 V530.4 H130 V534 H29.6 Z" fill="#8a8a8a" opacity="0.55"/>
<path d="M32.9,471 V528.5 Q32.9,530.5 35,530.5 H130" fill="none" stroke="#2a2a2a" stroke-width="1.1"/>
<path d="M34.0,509.0 C35.1,508.1 38.2,505.1 40.4,503.8 C42.6,502.5 45.0,501.7 47.3,501.0 C49.6,500.3 52.1,500.1 54.2,499.8 C56.3,499.5 58.3,499.2 60.0,499.2 C61.7,499.2 63.1,499.5 64.6,499.8 C66.1,500.1 67.7,500.9 69.2,501.0 C70.7,501.1 72.2,500.8 73.8,500.4 C75.3,500.0 77.0,498.9 78.5,498.7 C80.0,498.5 81.5,498.5 82.5,499.2 C83.5,499.9 84.1,501.5 84.2,502.7 C84.3,503.9 83.9,504.9 83.1,506.2 C82.3,507.4 80.6,509.0 79.6,510.2 C78.6,511.4 78.0,511.9 77.3,513.1 C76.6,514.4 76.2,516.2 75.6,517.7 C75.0,519.2 74.5,520.9 73.8,522.3 C73.1,523.6 72.5,524.8 71.5,525.8 C70.5,526.8 69.4,527.5 68.1,528.1 C66.8,528.7 64.3,529.3 63.5,529.5" fill="none" stroke="#3a3a3a" stroke-width="0.95"/>
<path d="M100.4,510.2 C100.7,508.6 101.8,506.8 102.8,505.4 C103.8,503.9 104.8,502.7 106.2,501.5 C107.6,500.3 109.4,499.0 111.0,498.2 C112.6,497.4 114.4,496.8 115.8,496.7 C117.2,496.6 118.2,497.0 119.6,497.7 C121.0,498.4 123.0,499.6 124.4,500.6 C125.9,501.6 127.4,502.4 128.3,503.5 C129.2,504.6 129.5,505.6 129.7,507.3 C129.9,509.1 129.6,512.1 129.4,514.0 C129.2,515.9 129.0,517.3 128.3,518.8 C127.6,520.2 126.5,521.6 125.4,522.7 C124.3,523.8 122.8,524.6 121.5,525.6 C120.2,526.6 119.1,527.9 117.7,528.5 C116.3,529.1 114.4,529.6 112.9,529.4 C111.5,529.2 110.2,528.5 109.0,527.5 C107.8,526.5 106.7,525.2 105.7,523.7 C104.7,522.2 103.6,520.2 102.8,518.8 C102.0,517.3 101.3,516.4 100.9,515.0 C100.5,513.6 100.1,511.8 100.4,510.2Z" fill="none" stroke="#3a3a3a" stroke-width="0.95"/>
<path d="M49.3,480.6 C49.1,479.5 54.2,477.6 55.7,477.5 C57.2,477.4 57.6,478.9 58.3,480.1 C59.0,481.3 60.2,484.2 59.9,484.9 C59.6,485.6 58.5,484.8 56.7,484.1 C54.9,483.4 49.5,481.7 49.3,480.6Z" fill="none" stroke="#3a3a3a" stroke-width="0.95"/>
<path d="M39.2,514.2 C40.0,512.5 42.1,510.0 43.8,508.5 C45.5,507.0 47.7,505.8 49.6,505.0 C51.5,504.2 53.3,503.9 55.4,503.8 C57.5,503.7 60.0,504.4 62.3,504.4 C64.6,504.4 67.5,503.6 69.2,503.8 C70.9,504.0 72.3,504.6 72.7,505.6 C73.1,506.6 72.1,508.2 71.5,509.6 C70.9,511.0 70.0,512.5 69.2,514.2 C68.4,515.9 67.7,518.3 66.9,520.0 C66.1,521.7 65.8,523.5 64.6,524.6 C63.4,525.8 61.9,526.5 60.0,526.9 C58.1,527.3 55.4,527.1 53.1,526.9 C50.8,526.7 48.1,526.4 46.2,525.8 C44.3,525.2 42.7,524.7 41.5,523.5 C40.3,522.3 39.6,520.3 39.2,518.8 C38.8,517.2 38.4,515.9 39.2,514.2Z" fill="none" stroke="#3a3a3a" stroke-width="0.95"/>
<path d="M45.0,517.7 C45.0,516.2 46.1,513.4 47.3,511.9 C48.4,510.4 50.2,509.3 51.9,508.5 C53.6,507.7 55.8,507.3 57.7,507.3 C59.6,507.3 62.1,507.7 63.5,508.5 C64.8,509.3 65.6,510.4 65.8,511.9 C66.0,513.4 65.2,516.0 64.6,517.7 C64.0,519.4 63.4,521.2 62.3,522.3 C61.1,523.3 59.4,523.8 57.7,524.0 C56.0,524.2 53.6,524.0 51.9,523.5 C50.2,523.0 48.4,522.2 47.3,521.2 C46.1,520.2 45.0,519.2 45.0,517.7Z" fill="none" stroke="#3a3a3a" stroke-width="0.95"/>
<path d="M51.3,516.5 C51.4,515.2 52.2,513.8 53.1,513.1 C54.0,512.4 55.4,512.4 56.5,512.5 C57.6,512.6 59.2,512.8 60.0,513.7 C60.8,514.6 61.3,516.5 61.2,517.7 C61.1,519.0 60.3,520.5 59.4,521.2 C58.5,521.9 57.1,522.2 56.0,522.1 C54.9,522.0 53.3,521.5 52.5,520.6 C51.7,519.7 51.2,517.8 51.3,516.5Z" fill="none" stroke="#3a3a3a" stroke-width="0.95"/>
<path d="M105.7,514.0 C105.7,512.5 106.0,510.6 106.6,509.2 C107.1,507.8 107.8,506.3 109.0,505.4 C110.2,504.4 112.0,503.7 113.8,503.5 C115.6,503.3 117.8,503.8 119.6,504.4 C121.4,505.0 123.3,506.2 124.4,507.3 C125.5,508.4 126.1,509.9 126.3,511.2 C126.5,512.5 126.0,513.9 125.4,515.0 C124.8,516.1 123.3,516.8 122.5,517.9 C121.7,519.0 121.6,520.7 120.6,521.7 C119.6,522.7 118.1,523.7 116.7,524.1 C115.3,524.5 113.7,524.5 112.4,524.1 C111.1,523.7 110.0,522.7 109.0,521.7 C108.0,520.7 107.1,519.2 106.6,517.9 C106.0,516.6 105.7,515.5 105.7,514.0Z" fill="none" stroke="#3a3a3a" stroke-width="0.95"/>
<path d="M111.4,510.2 C111.6,509.0 111.7,507.6 112.4,506.8 C113.1,506.0 114.4,505.4 115.8,505.4 C117.2,505.4 119.4,506.0 120.6,506.8 C121.8,507.6 122.8,509.1 123.0,510.2 C123.2,511.3 122.7,512.8 122.0,513.6 C121.3,514.4 119.8,514.3 119.1,515.0 C118.4,515.7 118.4,517.1 117.7,517.9 C117.0,518.7 115.7,519.8 114.8,519.8 C113.9,519.8 113.0,518.9 112.4,517.9 C111.8,516.9 111.6,515.3 111.4,514.0 C111.2,512.7 111.2,511.4 111.4,510.2Z" fill="none" stroke="#3a3a3a" stroke-width="0.95"/>
<path d="M233.0 530.4h0.9v0.9h-0.9zM225.6 515.8h0.9v0.9h-0.9zM218.6 492.6h0.9v0.9h-0.9zM207.3 489.9h0.9v0.9h-0.9zM234.6 490.4h0.9v0.9h-0.9zM236.9 521.6h0.9v0.9h-0.9zM220.7 509.5h0.9v0.9h-0.9zM208.1 497.3h0.9v0.9h-0.9zM230.9 522.9h0.9v0.9h-0.9zM186.7 470.6h0.9v0.9h-0.9zM161.9 473.2h0.9v0.9h-0.9zM199.8 493.9h0.9v0.9h-0.9zM232.8 528.2h0.9v0.9h-0.9zM241.8 498.2h0.9v0.9h-0.9zM212.0 520.4h0.9v0.9h-0.9zM205.3 499.0h0.9v0.9h-0.9zM195.4 523.6h0.9v0.9h-0.9zM190.1 491.5h0.9v0.9h-0.9zM196.9 513.5h0.9v0.9h-0.9zM205.8 519.9h0.9v0.9h-0.9zM231.5 491.1h0.9v0.9h-0.9zM240.7 530.5h0.9v0.9h-0.9zM197.0 492.6h0.9v0.9h-0.9zM223.9 526.6h0.9v0.9h-0.9zM203.5 510.4h0.9v0.9h-0.9zM252.0 503.8h0.9v0.9h-0.9zM243.3 503.2h0.9v0.9h-0.9zM228.7 522.8h0.9v0.9h-0.9zM175.1 470.5h0.9v0.9h-0.9zM203.7 524.7h0.9v0.9h-0.9zM242.3 528.2h0.9v0.9h-0.9zM204.5 526.8h0.9v0.9h-0.9zM216.2 518.8h0.9v0.9h-0.9zM195.8 500.8h0.9v0.9h-0.9zM155.6 490.1h0.9v0.9h-0.9zM224.5 515.4h0.9v0.9h-0.9zM205.1 479.9h0.9v0.9h-0.9zM213.5 525.1h0.9v0.9h-0.9zM224.9 515.5h0.9v0.9h-0.9zM224.1 513.1h0.9v0.9h-0.9zM246.6 496.4h0.9v0.9h-0.9zM163.4 473.3h0.9v0.9h-0.9zM232.3 511.0h0.9v0.9h-0.9zM217.0 530.9h0.9v0.9h-0.9zM197.7 529.3h0.9v0.9h-0.9zM202.2 527.6h0.9v0.9h-0.9zM200.7 481.3h0.9v0.9h-0.9zM171.4 473.5h0.9v0.9h-0.9zM223.0 529.0h0.9v0.9h-0.9zM194.1 491.0h0.9v0.9h-0.9zM196.2 490.8h0.9v0.9h-0.9zM222.0 493.3h0.9v0.9h-0.9zM244.3 493.9h0.9v0.9h-0.9zM197.0 487.5h0.9v0.9h-0.9zM208.8 510.1h0.9v0.9h-0.9zM226.3 527.9h0.9v0.9h-0.9zM212.2 511.0h0.9v0.9h-0.9zM208.3 494.0h0.9v0.9h-0.9zM201.5 499.7h0.9v0.9h-0.9zM201.3 489.6h0.9v0.9h-0.9zM190.9 493.0h0.9v0.9h-0.9zM226.1 513.6h0.9v0.9h-0.9zM243.3 527.7h0.9v0.9h-0.9zM208.4 526.2h0.9v0.9h-0.9zM197.1 481.0h0.9v0.9h-0.9zM227.6 522.2h0.9v0.9h-0.9zM212.9 529.6h0.9v0.9h-0.9zM158.7 472.5h0.9v0.9h-0.9zM167.1 470.4h0.9v0.9h-0.9zM223.7 508.1h0.9v0.9h-0.9zM220.2 529.1h0.9v0.9h-0.9zM190.0 529.7h0.9v0.9h-0.9zM197.1 493.2h0.9v0.9h-0.9zM249.5 530.7h0.9v0.9h-0.9zM197.6 518.0h0.9v0.9h-0.9zM210.8 497.0h0.9v0.9h-0.9zM240.5 506.3h0.9v0.9h-0.9zM187.7 493.5h0.9v0.9h-0.9zM243.7 503.8h0.9v0.9h-0.9zM155.4 518.7h0.9v0.9h-0.9zM231.2 500.9h0.9v0.9h-0.9zM155.5 518.5h0.9v0.9h-0.9zM210.3 514.2h0.9v0.9h-0.9zM194.7 528.5h0.9v0.9h-0.9zM247.7 526.6h0.9v0.9h-0.9zM191.5 485.7h0.9v0.9h-0.9zM231.4 519.9h0.9v0.9h-0.9zM251.1 511.7h0.9v0.9h-0.9zM202.4 486.1h0.9v0.9h-0.9zM210.6 525.2h0.9v0.9h-0.9zM211.9 495.5h0.9v0.9h-0.9zM239.5 496.4h0.9v0.9h-0.9zM225.8 509.2h0.9v0.9h-0.9zM246.5 530.9h0.9v0.9h-0.9zM199.3 522.5h0.9v0.9h-0.9zM193.9 527.9h0.9v0.9h-0.9zM250.9 502.5h0.9v0.9h-0.9zM216.8 492.3h0.9v0.9h-0.9zM200.1 498.1h0.9v0.9h-0.9zM224.7 514.2h0.9v0.9h-0.9zM245.2 498.4h0.9v0.9h-0.9zM242.9 507.0h0.9v0.9h-0.9zM216.2 502.0h0.9v0.9h-0.9zM237.9 496.5h0.9v0.9h-0.9zM233.1 511.3h0.9v0.9h-0.9zM199.9 520.0h0.9v0.9h-0.9zM248.3 526.2h0.9v0.9h-0.9zM208.7 494.1h0.9v0.9h-0.9zM200.6 499.6h0.9v0.9h-0.9zM208.7 516.2h0.9v0.9h-0.9zM240.9 491.8h0.9v0.9h-0.9zM248.1 529.9h0.9v0.9h-0.9zM248.8 492.9h0.9v0.9h-0.9zM216.1 503.9h0.9v0.9h-0.9zM190.1 527.9h0.9v0.9h-0.9zM216.5 502.7h0.9v0.9h-0.9zM221.4 526.5h0.9v0.9h-0.9zM251.2 511.0h0.9v0.9h-0.9zM249.0 488.4h0.9v0.9h-0.9zM195.3 525.0h0.9v0.9h-0.9zM212.2 520.1h0.9v0.9h-0.9zM205.0 489.1h0.9v0.9h-0.9zM248.7 494.1h0.9v0.9h-0.9zM235.5 529.8h0.9v0.9h-0.9zM247.5 530.6h0.9v0.9h-0.9zM251.4 507.6h0.9v0.9h-0.9zM225.4 503.2h0.9v0.9h-0.9zM212.1 518.7h0.9v0.9h-0.9zM210.7 503.7h0.9v0.9h-0.9zM195.0 502.7h0.9v0.9h-0.9zM156.5 472.6h0.9v0.9h-0.9zM196.0 483.7h0.9v0.9h-0.9zM192.6 489.8h0.9v0.9h-0.9zM220.0 520.8h0.9v0.9h-0.9zM198.9 500.2h0.9v0.9h-0.9zM172.5 473.3h0.9v0.9h-0.9zM196.1 488.1h0.9v0.9h-0.9zM204.7 527.1h0.9v0.9h-0.9zM184.6 489.1h0.9v0.9h-0.9zM237.2 509.2h0.9v0.9h-0.9zM227.0 513.4h0.9v0.9h-0.9zM204.5 479.4h0.9v0.9h-0.9zM220.0 495.9h0.9v0.9h-0.9zM221.7 530.6h0.9v0.9h-0.9zM187.5 485.5h0.9v0.9h-0.9zM251.1 526.0h0.9v0.9h-0.9zM202.4 481.0h0.9v0.9h-0.9zM220.0 499.7h0.9v0.9h-0.9zM221.5 512.2h0.9v0.9h-0.9zM211.1 529.5h0.9v0.9h-0.9zM186.2 472.3h0.9v0.9h-0.9zM211.6 513.8h0.9v0.9h-0.9zM238.9 508.5h0.9v0.9h-0.9zM155.4 471.6h0.9v0.9h-0.9zM251.6 488.7h0.9v0.9h-0.9zM238.9 505.5h0.9v0.9h-0.9zM246.9 504.1h0.9v0.9h-0.9zM201.8 489.9h0.9v0.9h-0.9zM191.2 500.7h0.9v0.9h-0.9zM203.9 495.0h0.9v0.9h-0.9zM229.7 512.6h0.9v0.9h-0.9zM230.8 501.1h0.9v0.9h-0.9zM204.6 492.3h0.9v0.9h-0.9zM201.8 514.3h0.9v0.9h-0.9zM189.7 488.0h0.9v0.9h-0.9zM218.5 510.9h0.9v0.9h-0.9zM216.6 512.0h0.9v0.9h-0.9zM181.5 472.8h0.9v0.9h-0.9zM190.0 471.0h0.9v0.9h-0.9zM248.3 501.5h0.9v0.9h-0.9zM220.0 528.9h0.9v0.9h-0.9zM202.3 491.9h0.9v0.9h-0.9zM224.1 524.5h0.9v0.9h-0.9zM237.3 522.8h0.9v0.9h-0.9zM197.6 495.1h0.9v0.9h-0.9zM237.7 489.6h0.9v0.9h-0.9zM237.6 524.2h0.9v0.9h-0.9zM196.4 480.9h0.9v0.9h-0.9zM230.0 492.2h0.9v0.9h-0.9zM197.6 493.6h0.9v0.9h-0.9zM191.8 469.7h0.9v0.9h-0.9zM211.8 504.6h0.9v0.9h-0.9zM186.2 471.3h0.9v0.9h-0.9zM213.4 500.6h0.9v0.9h-0.9zM185.2 494.8h0.9v0.9h-0.9zM191.6 471.4h0.9v0.9h-0.9zM201.5 530.2h0.9v0.9h-0.9zM230.5 521.2h0.9v0.9h-0.9zM208.2 493.0h0.9v0.9h-0.9zM197.7 530.6h0.9v0.9h-0.9zM190.8 495.8h0.9v0.9h-0.9zM204.3 486.9h0.9v0.9h-0.9zM223.1 501.0h0.9v0.9h-0.9zM250.2 479.5h0.9v0.9h-0.9zM204.5 499.6h0.9v0.9h-0.9zM189.7 489.8h0.9v0.9h-0.9zM214.6 503.9h0.9v0.9h-0.9zM247.7 491.9h0.9v0.9h-0.9zM206.6 489.3h0.9v0.9h-0.9zM187.8 494.9h0.9v0.9h-0.9zM247.8 491.4h0.9v0.9h-0.9zM219.3 510.2h0.9v0.9h-0.9zM198.3 494.2h0.9v0.9h-0.9zM199.4 520.6h0.9v0.9h-0.9zM220.5 499.8h0.9v0.9h-0.9zM200.8 481.2h0.9v0.9h-0.9zM204.4 488.5h0.9v0.9h-0.9zM220.8 502.9h0.9v0.9h-0.9zM214.8 517.4h0.9v0.9h-0.9zM197.9 520.5h0.9v0.9h-0.9zM210.0 515.7h0.9v0.9h-0.9zM190.3 496.8h0.9v0.9h-0.9zM245.6 529.3h0.9v0.9h-0.9zM235.3 501.3h0.9v0.9h-0.9zM197.7 520.5h0.9v0.9h-0.9zM221.8 502.0h0.9v0.9h-0.9zM242.2 490.0h0.9v0.9h-0.9zM161.4 473.5h0.9v0.9h-0.9zM242.8 522.9h0.9v0.9h-0.9zM251.0 496.3h0.9v0.9h-0.9zM208.6 507.0h0.9v0.9h-0.9zM222.8 497.8h0.9v0.9h-0.9zM231.2 497.3h0.9v0.9h-0.9zM222.4 493.6h0.9v0.9h-0.9zM247.5 491.8h0.9v0.9h-0.9zM204.5 500.1h0.9v0.9h-0.9zM227.3 523.3h0.9v0.9h-0.9zM189.6 482.0h0.9v0.9h-0.9zM218.8 494.2h0.9v0.9h-0.9zM244.1 498.3h0.9v0.9h-0.9zM204.2 517.8h0.9v0.9h-0.9zM216.7 498.9h0.9v0.9h-0.9zM155.2 518.5h0.9v0.9h-0.9zM208.6 506.3h0.9v0.9h-0.9zM220.8 519.5h0.9v0.9h-0.9zM197.4 510.7h0.9v0.9h-0.9zM247.4 480.7h0.9v0.9h-0.9zM207.2 496.3h0.9v0.9h-0.9zM203.9 520.9h0.9v0.9h-0.9zM174.3 471.4h0.9v0.9h-0.9zM229.5 504.3h0.9v0.9h-0.9zM210.6 509.2h0.9v0.9h-0.9zM191.0 498.8h0.9v0.9h-0.9zM208.4 514.5h0.9v0.9h-0.9zM202.5 484.5h0.9v0.9h-0.9zM251.6 482.0h0.9v0.9h-0.9zM194.9 526.7h0.9v0.9h-0.9zM193.1 488.4h0.9v0.9h-0.9zM204.7 496.3h0.9v0.9h-0.9zM197.4 516.7h0.9v0.9h-0.9zM235.6 498.5h0.9v0.9h-0.9zM241.5 494.3h0.9v0.9h-0.9zM219.1 503.7h0.9v0.9h-0.9zM249.9 469.8h0.9v0.9h-0.9zM215.8 508.2h0.9v0.9h-0.9zM236.8 498.1h0.9v0.9h-0.9zM224.1 514.2h0.9v0.9h-0.9zM218.7 509.8h0.9v0.9h-0.9zM207.9 519.1h0.9v0.9h-0.9zM193.3 500.1h0.9v0.9h-0.9zM248.8 492.8h0.9v0.9h-0.9zM197.2 483.1h0.9v0.9h-0.9zM249.0 488.9h0.9v0.9h-0.9zM217.7 520.6h0.9v0.9h-0.9zM197.7 516.3h0.9v0.9h-0.9zM205.4 495.4h0.9v0.9h-0.9zM246.0 524.6h0.9v0.9h-0.9zM195.4 471.1h0.9v0.9h-0.9zM198.1 525.8h0.9v0.9h-0.9zM234.6 494.8h0.9v0.9h-0.9zM246.6 494.3h0.9v0.9h-0.9zM213.0 522.5h0.9v0.9h-0.9zM164.7 473.0h0.9v0.9h-0.9zM222.3 505.4h0.9v0.9h-0.9zM203.2 480.6h0.9v0.9h-0.9zM197.4 486.5h0.9v0.9h-0.9zM203.1 483.2h0.9v0.9h-0.9zM203.9 513.6h0.9v0.9h-0.9zM191.3 494.6h0.9v0.9h-0.9zM250.2 524.3h0.9v0.9h-0.9zM251.1 527.5h0.9v0.9h-0.9zM251.8 509.2h0.9v0.9h-0.9zM233.5 503.6h0.9v0.9h-0.9zM199.9 513.2h0.9v0.9h-0.9zM218.0 511.6h0.9v0.9h-0.9zM248.1 493.2h0.9v0.9h-0.9zM196.2 492.2h0.9v0.9h-0.9zM222.5 514.9h0.9v0.9h-0.9zM218.1 493.9h0.9v0.9h-0.9zM210.2 501.0h0.9v0.9h-0.9zM251.3 497.9h0.9v0.9h-0.9zM227.0 513.3h0.9v0.9h-0.9zM231.4 498.5h0.9v0.9h-0.9zM185.3 491.8h0.9v0.9h-0.9zM232.5 521.3h0.9v0.9h-0.9zM193.3 469.7h0.9v0.9h-0.9zM197.2 492.6h0.9v0.9h-0.9zM248.2 483.2h0.9v0.9h-0.9zM179.5 470.5h0.9v0.9h-0.9zM211.5 500.3h0.9v0.9h-0.9zM249.1 492.1h0.9v0.9h-0.9zM251.0 524.0h0.9v0.9h-0.9zM208.3 519.4h0.9v0.9h-0.9zM210.6 517.3h0.9v0.9h-0.9zM215.9 506.1h0.9v0.9h-0.9zM210.0 489.2h0.9v0.9h-0.9zM245.0 492.0h0.9v0.9h-0.9zM223.5 526.7h0.9v0.9h-0.9zM217.6 510.1h0.9v0.9h-0.9zM198.2 497.6h0.9v0.9h-0.9zM221.3 524.3h0.9v0.9h-0.9zM202.8 489.7h0.9v0.9h-0.9zM247.1 530.8h0.9v0.9h-0.9zM198.2 518.2h0.9v0.9h-0.9zM249.3 479.8h0.9v0.9h-0.9zM195.0 528.2h0.9v0.9h-0.9zM195.1 521.7h0.9v0.9h-0.9zM230.6 505.3h0.9v0.9h-0.9zM202.7 493.5h0.9v0.9h-0.9zM217.6 500.3h0.9v0.9h-0.9zM251.7 481.6h0.9v0.9h-0.9zM187.6 469.7h0.9v0.9h-0.9zM164.1 472.4h0.9v0.9h-0.9zM196.0 520.9h0.9v0.9h-0.9zM222.7 528.9h0.9v0.9h-0.9zM236.2 505.3h0.9v0.9h-0.9zM192.2 485.2h0.9v0.9h-0.9zM207.6 492.3h0.9v0.9h-0.9zM202.7 494.1h0.9v0.9h-0.9zM232.6 506.1h0.9v0.9h-0.9zM239.5 530.2h0.9v0.9h-0.9zM235.1 524.5h0.9v0.9h-0.9zM191.8 487.4h0.9v0.9h-0.9zM228.8 507.2h0.9v0.9h-0.9zM245.0 504.1h0.9v0.9h-0.9zM243.6 504.1h0.9v0.9h-0.9zM251.2 470.8h0.9v0.9h-0.9zM225.5 529.1h0.9v0.9h-0.9zM215.5 498.6h0.9v0.9h-0.9zM216.5 502.1h0.9v0.9h-0.9zM223.4 527.7h0.9v0.9h-0.9zM217.9 518.6h0.9v0.9h-0.9zM206.3 506.5h0.9v0.9h-0.9zM247.3 484.3h0.9v0.9h-0.9zM205.1 492.9h0.9v0.9h-0.9zM230.1 527.0h0.9v0.9h-0.9zM202.8 527.1h0.9v0.9h-0.9zM193.5 503.0h0.9v0.9h-0.9zM223.0 505.0h0.9v0.9h-0.9zM234.6 519.9h0.9v0.9h-0.9zM155.1 522.8h0.9v0.9h-0.9zM216.5 520.6h0.9v0.9h-0.9zM250.5 489.3h0.9v0.9h-0.9zM235.9 526.1h0.9v0.9h-0.9zM221.4 521.6h0.9v0.9h-0.9zM222.6 510.7h0.9v0.9h-0.9zM229.8 497.9h0.9v0.9h-0.9zM219.4 523.2h0.9v0.9h-0.9zM194.7 496.9h0.9v0.9h-0.9zM206.6 512.4h0.9v0.9h-0.9zM186.6 486.5h0.9v0.9h-0.9zM238.8 508.6h0.9v0.9h-0.9zM201.6 492.6h0.9v0.9h-0.9zM244.4 527.2h0.9v0.9h-0.9zM203.7 516.6h0.9v0.9h-0.9zM251.1 498.8h0.9v0.9h-0.9zM241.5 492.3h0.9v0.9h-0.9zM226.8 526.2h0.9v0.9h-0.9zM205.0 486.8h0.9v0.9h-0.9zM198.3 498.0h0.9v0.9h-0.9zM243.5 525.2h0.9v0.9h-0.9zM244.9 498.6h0.9v0.9h-0.9zM248.5 477.6h0.9v0.9h-0.9zM239.6 494.6h0.9v0.9h-0.9zM251.1 470.6h0.9v0.9h-0.9zM200.4 494.5h0.9v0.9h-0.9zM249.9 482.7h0.9v0.9h-0.9zM191.4 494.7h0.9v0.9h-0.9zM210.9 524.2h0.9v0.9h-0.9zM211.6 496.7h0.9v0.9h-0.9zM250.3 494.6h0.9v0.9h-0.9zM189.0 494.9h0.9v0.9h-0.9zM212.3 502.7h0.9v0.9h-0.9zM196.3 484.5h0.9v0.9h-0.9zM198.3 529.7h0.9v0.9h-0.9zM230.7 496.4h0.9v0.9h-0.9zM207.1 502.0h0.9v0.9h-0.9zM159.1 473.1h0.9v0.9h-0.9zM219.8 511.7h0.9v0.9h-0.9zM191.9 526.0h0.9v0.9h-0.9zM198.2 483.4h0.9v0.9h-0.9zM234.1 497.1h0.9v0.9h-0.9zM224.4 490.5h0.9v0.9h-0.9zM233.3 505.9h0.9v0.9h-0.9zM218.4 493.3h0.9v0.9h-0.9zM206.6 508.6h0.9v0.9h-0.9zM210.6 519.6h0.9v0.9h-0.9zM250.6 492.5h0.9v0.9h-0.9zM250.7 469.6h0.9v0.9h-0.9zM207.9 493.1h0.9v0.9h-0.9zM208.4 515.9h0.9v0.9h-0.9zM202.5 471.3h0.9v0.9h-0.9zM229.1 508.5h0.9v0.9h-0.9zM198.0 514.4h0.9v0.9h-0.9zM206.9 506.1h0.9v0.9h-0.9zM185.1 490.3h0.9v0.9h-0.9zM225.8 504.8h0.9v0.9h-0.9zM227.7 512.1h0.9v0.9h-0.9zM247.1 528.3h0.9v0.9h-0.9zM196.7 524.7h0.9v0.9h-0.9zM185.0 469.8h0.9v0.9h-0.9zM211.1 496.7h0.9v0.9h-0.9zM231.8 503.8h0.9v0.9h-0.9zM201.1 489.4h0.9v0.9h-0.9zM244.8 524.0h0.9v0.9h-0.9zM235.9 490.7h0.9v0.9h-0.9zM203.3 510.2h0.9v0.9h-0.9zM196.2 529.9h0.9v0.9h-0.9zM215.4 522.4h0.9v0.9h-0.9zM229.2 498.2h0.9v0.9h-0.9zM245.4 490.0h0.9v0.9h-0.9zM193.6 528.4h0.9v0.9h-0.9zM207.9 527.4h0.9v0.9h-0.9zM248.0 475.3h0.9v0.9h-0.9zM200.7 519.4h0.9v0.9h-0.9zM220.7 495.4h0.9v0.9h-0.9zM249.5 527.7h0.9v0.9h-0.9zM247.8 474.1h0.9v0.9h-0.9zM223.3 514.1h0.9v0.9h-0.9zM244.6 496.2h0.9v0.9h-0.9zM212.7 519.5h0.9v0.9h-0.9zM181.7 470.8h0.9v0.9h-0.9zM251.5 514.9h0.9v0.9h-0.9zM195.1 527.7h0.9v0.9h-0.9zM155.3 495.0h0.9v0.9h-0.9zM202.8 499.5h0.9v0.9h-0.9zM240.0 495.0h0.9v0.9h-0.9zM210.3 524.2h0.9v0.9h-0.9zM204.6 500.8h0.9v0.9h-0.9zM250.9 482.3h0.9v0.9h-0.9zM195.6 471.1h0.9v0.9h-0.9zM244.3 499.0h0.9v0.9h-0.9zM225.8 516.0h0.9v0.9h-0.9zM212.7 517.1h0.9v0.9h-0.9zM249.9 476.3h0.9v0.9h-0.9zM225.2 515.2h0.9v0.9h-0.9zM217.9 517.3h0.9v0.9h-0.9zM205.0 503.9h0.9v0.9h-0.9zM218.6 505.5h0.9v0.9h-0.9zM202.9 515.9h0.9v0.9h-0.9zM196.3 495.1h0.9v0.9h-0.9zM190.1 493.3h0.9v0.9h-0.9zM196.4 492.0h0.9v0.9h-0.9zM249.3 474.6h0.9v0.9h-0.9zM193.3 496.8h0.9v0.9h-0.9zM212.4 491.8h0.9v0.9h-0.9zM178.2 470.0h0.9v0.9h-0.9zM239.8 527.2h0.9v0.9h-0.9zM186.4 472.6h0.9v0.9h-0.9zM241.6 520.9h0.9v0.9h-0.9zM200.6 493.0h0.9v0.9h-0.9zM238.8 522.2h0.9v0.9h-0.9zM250.6 513.3h0.9v0.9h-0.9zM219.6 498.4h0.9v0.9h-0.9zM241.5 526.8h0.9v0.9h-0.9zM212.1 495.1h0.9v0.9h-0.9zM210.6 489.1h0.9v0.9h-0.9zM197.6 519.4h0.9v0.9h-0.9zM247.3 489.3h0.9v0.9h-0.9zM216.9 490.2h0.9v0.9h-0.9zM242.4 500.9h0.9v0.9h-0.9zM197.5 525.3h0.9v0.9h-0.9zM187.2 493.5h0.9v0.9h-0.9zM228.7 494.0h0.9v0.9h-0.9zM201.1 493.6h0.9v0.9h-0.9zM230.1 525.0h0.9v0.9h-0.9zM196.3 526.1h0.9v0.9h-0.9zM206.0 511.3h0.9v0.9h-0.9zM192.0 485.8h0.9v0.9h-0.9zM199.7 501.7h0.9v0.9h-0.9zM223.9 495.9h0.9v0.9h-0.9zM208.4 489.3h0.9v0.9h-0.9zM222.7 523.9h0.9v0.9h-0.9zM234.7 505.3h0.9v0.9h-0.9zM196.7 484.0h0.9v0.9h-0.9zM188.1 471.9h0.9v0.9h-0.9zM250.2 484.9h0.9v0.9h-0.9zM218.3 491.1h0.9v0.9h-0.9zM233.2 529.7h0.9v0.9h-0.9zM217.4 511.3h0.9v0.9h-0.9zM197.3 526.7h0.9v0.9h-0.9zM216.1 509.7h0.9v0.9h-0.9zM204.5 480.1h0.9v0.9h-0.9zM204.8 498.5h0.9v0.9h-0.9zM208.7 514.1h0.9v0.9h-0.9zM241.7 498.0h0.9v0.9h-0.9zM192.4 503.2h0.9v0.9h-0.9zM208.6 494.0h0.9v0.9h-0.9zM238.8 526.1h0.9v0.9h-0.9zM229.2 502.2h0.9v0.9h-0.9zM231.4 504.5h0.9v0.9h-0.9zM186.2 494.3h0.9v0.9h-0.9zM232.2 523.6h0.9v0.9h-0.9zM228.9 512.0h0.9v0.9h-0.9zM191.0 490.3h0.9v0.9h-0.9zM199.7 519.3h0.9v0.9h-0.9zM188.0 488.9h0.9v0.9h-0.9zM204.8 515.2h0.9v0.9h-0.9zM240.6 490.9h0.9v0.9h-0.9zM222.3 494.0h0.9v0.9h-0.9zM208.9 491.5h0.9v0.9h-0.9zM248.5 471.4h0.9v0.9h-0.9zM233.6 501.8h0.9v0.9h-0.9zM208.7 502.4h0.9v0.9h-0.9zM194.8 503.6h0.9v0.9h-0.9zM220.2 508.7h0.9v0.9h-0.9zM206.5 516.8h0.9v0.9h-0.9zM193.6 498.7h0.9v0.9h-0.9zM230.9 511.2h0.9v0.9h-0.9zM202.2 518.5h0.9v0.9h-0.9zM221.4 496.9h0.9v0.9h-0.9zM209.6 518.9h0.9v0.9h-0.9zM206.3 528.5h0.9v0.9h-0.9zM155.7 524.6h0.9v0.9h-0.9zM224.3 499.3h0.9v0.9h-0.9zM234.9 492.1h0.9v0.9h-0.9zM251.4 509.2h0.9v0.9h-0.9zM186.2 485.2h0.9v0.9h-0.9zM209.2 496.6h0.9v0.9h-0.9zM188.6 529.5h0.9v0.9h-0.9zM250.6 520.7h0.9v0.9h-0.9zM248.0 482.7h0.9v0.9h-0.9zM176.5 470.5h0.9v0.9h-0.9zM181.5 472.5h0.9v0.9h-0.9zM220.4 503.8h0.9v0.9h-0.9zM226.3 511.7h0.9v0.9h-0.9zM224.3 498.2h0.9v0.9h-0.9zM200.0 486.7h0.9v0.9h-0.9zM238.4 523.5h0.9v0.9h-0.9zM202.4 479.9h0.9v0.9h-0.9zM250.5 475.9h0.9v0.9h-0.9zM155.6 490.9h0.9v0.9h-0.9zM186.9 487.9h0.9v0.9h-0.9zM212.2 520.2h0.9v0.9h-0.9zM226.1 530.0h0.9v0.9h-0.9zM191.2 530.9h0.9v0.9h-0.9zM206.9 528.3h0.9v0.9h-0.9zM179.6 470.6h0.9v0.9h-0.9zM246.8 485.4h0.9v0.9h-0.9zM209.4 491.4h0.9v0.9h-0.9zM211.0 526.9h0.9v0.9h-0.9zM246.6 484.8h0.9v0.9h-0.9zM222.6 490.6h0.9v0.9h-0.9zM251.8 518.6h0.9v0.9h-0.9zM199.5 518.3h0.9v0.9h-0.9zM249.1 526.4h0.9v0.9h-0.9zM205.3 529.8h0.9v0.9h-0.9zM225.8 510.5h0.9v0.9h-0.9zM236.8 494.4h0.9v0.9h-0.9zM209.2 521.6h0.9v0.9h-0.9zM244.4 496.2h0.9v0.9h-0.9zM212.4 495.6h0.9v0.9h-0.9zM155.3 474.7h0.9v0.9h-0.9zM238.6 523.7h0.9v0.9h-0.9zM228.2 506.1h0.9v0.9h-0.9zM190.4 470.1h0.9v0.9h-0.9zM196.9 483.7h0.9v0.9h-0.9zM212.0 529.8h0.9v0.9h-0.9zM250.6 489.1h0.9v0.9h-0.9zM222.9 489.1h0.9v0.9h-0.9zM198.9 525.9h0.9v0.9h-0.9zM220.0 492.0h0.9v0.9h-0.9zM228.6 498.3h0.9v0.9h-0.9zM200.8 511.5h0.9v0.9h-0.9zM214.1 495.2h0.9v0.9h-0.9zM208.3 524.6h0.9v0.9h-0.9zM251.5 503.5h0.9v0.9h-0.9zM216.2 514.8h0.9v0.9h-0.9zM251.9 493.3h0.9v0.9h-0.9zM246.1 496.1h0.9v0.9h-0.9zM218.3 522.7h0.9v0.9h-0.9zM250.5 473.0h0.9v0.9h-0.9zM227.3 508.1h0.9v0.9h-0.9zM155.1 473.4h0.9v0.9h-0.9zM238.0 494.6h0.9v0.9h-0.9zM248.1 491.2h0.9v0.9h-0.9zM215.1 502.6h0.9v0.9h-0.9zM155.4 484.5h0.9v0.9h-0.9zM203.6 471.3h0.9v0.9h-0.9zM230.6 493.2h0.9v0.9h-0.9zM205.8 495.1h0.9v0.9h-0.9zM197.5 530.4h0.9v0.9h-0.9zM244.1 525.9h0.9v0.9h-0.9zM226.4 512.4h0.9v0.9h-0.9zM168.7 471.2h0.9v0.9h-0.9zM188.0 490.6h0.9v0.9h-0.9zM155.4 494.9h0.9v0.9h-0.9zM156.3 474.8h0.9v0.9h-0.9zM236.7 520.4h0.9v0.9h-0.9zM205.1 483.5h0.9v0.9h-0.9zM250.3 494.7h0.9v0.9h-0.9zM211.4 530.2h0.9v0.9h-0.9zM230.1 526.5h0.9v0.9h-0.9zM248.4 474.1h0.9v0.9h-0.9zM186.5 490.2h0.9v0.9h-0.9zM250.9 472.7h0.9v0.9h-0.9zM251.8 499.8h0.9v0.9h-0.9zM223.1 501.2h0.9v0.9h-0.9zM229.4 489.9h0.9v0.9h-0.9zM223.2 524.0h0.9v0.9h-0.9zM226.5 504.5h0.9v0.9h-0.9zM225.9 507.2h0.9v0.9h-0.9zM235.1 507.4h0.9v0.9h-0.9zM193.3 485.7h0.9v0.9h-0.9zM216.3 526.8h0.9v0.9h-0.9zM204.4 472.7h0.9v0.9h-0.9zM201.7 525.4h0.9v0.9h-0.9zM211.0 508.5h0.9v0.9h-0.9zM211.8 517.7h0.9v0.9h-0.9zM167.7 470.2h0.9v0.9h-0.9zM186.5 494.7h0.9v0.9h-0.9zM189.9 489.1h0.9v0.9h-0.9zM226.6 499.6h0.9v0.9h-0.9zM155.3 483.5h0.9v0.9h-0.9zM242.4 497.3h0.9v0.9h-0.9zM203.6 503.8h0.9v0.9h-0.9zM215.0 510.8h0.9v0.9h-0.9zM216.0 507.5h0.9v0.9h-0.9zM238.9 525.1h0.9v0.9h-0.9zM234.4 520.6h0.9v0.9h-0.9zM192.0 527.0h0.9v0.9h-0.9zM217.1 508.5h0.9v0.9h-0.9zM205.9 521.9h0.9v0.9h-0.9zM212.4 501.8h0.9v0.9h-0.9zM157.6 474.8h0.9v0.9h-0.9zM209.9 506.3h0.9v0.9h-0.9zM206.4 490.1h0.9v0.9h-0.9zM246.8 493.5h0.9v0.9h-0.9zM196.0 502.5h0.9v0.9h-0.9zM236.4 530.2h0.9v0.9h-0.9zM229.6 502.4h0.9v0.9h-0.9zM224.5 508.6h0.9v0.9h-0.9zM248.1 529.2h0.9v0.9h-0.9zM210.1 496.3h0.9v0.9h-0.9zM202.5 495.5h0.9v0.9h-0.9zM223.5 513.9h0.9v0.9h-0.9zM251.0 530.9h0.9v0.9h-0.9zM219.9 499.7h0.9v0.9h-0.9zM246.2 496.7h0.9v0.9h-0.9zM189.7 470.6h0.9v0.9h-0.9zM200.6 502.0h0.9v0.9h-0.9zM188.8 500.0h0.9v0.9h-0.9zM206.4 493.1h0.9v0.9h-0.9zM168.0 470.1h0.9v0.9h-0.9zM209.3 529.1h0.9v0.9h-0.9zM202.8 518.3h0.9v0.9h-0.9zM155.5 477.2h0.9v0.9h-0.9zM193.7 492.9h0.9v0.9h-0.9zM248.7 496.2h0.9v0.9h-0.9zM210.8 528.7h0.9v0.9h-0.9zM217.3 505.9h0.9v0.9h-0.9zM235.3 489.7h0.9v0.9h-0.9zM206.8 505.1h0.9v0.9h-0.9zM190.8 486.1h0.9v0.9h-0.9zM250.1 476.2h0.9v0.9h-0.9zM241.3 491.1h0.9v0.9h-0.9zM234.0 498.2h0.9v0.9h-0.9zM241.5 498.6h0.9v0.9h-0.9zM203.2 472.1h0.9v0.9h-0.9zM210.7 522.5h0.9v0.9h-0.9zM225.2 500.6h0.9v0.9h-0.9zM214.1 522.4h0.9v0.9h-0.9zM211.5 497.5h0.9v0.9h-0.9zM224.7 502.3h0.9v0.9h-0.9zM246.1 526.2h0.9v0.9h-0.9zM250.5 473.3h0.9v0.9h-0.9zM192.7 496.9h0.9v0.9h-0.9zM204.1 529.0h0.9v0.9h-0.9zM241.2 497.0h0.9v0.9h-0.9zM205.2 517.7h0.9v0.9h-0.9zM250.5 469.7h0.9v0.9h-0.9zM227.8 495.3h0.9v0.9h-0.9zM249.3 491.0h0.9v0.9h-0.9zM205.0 502.4h0.9v0.9h-0.9zM198.3 489.3h0.9v0.9h-0.9zM216.7 529.0h0.9v0.9h-0.9zM228.9 498.3h0.9v0.9h-0.9zM251.6 506.1h0.9v0.9h-0.9zM215.5 522.2h0.9v0.9h-0.9zM249.4 485.3h0.9v0.9h-0.9zM242.0 503.9h0.9v0.9h-0.9zM213.8 507.1h0.9v0.9h-0.9zM229.8 501.1h0.9v0.9h-0.9zM232.2 502.9h0.9v0.9h-0.9zM189.6 528.8h0.9v0.9h-0.9zM209.9 522.0h0.9v0.9h-0.9zM190.7 495.9h0.9v0.9h-0.9zM211.0 530.2h0.9v0.9h-0.9zM200.9 513.2h0.9v0.9h-0.9zM234.6 498.0h0.9v0.9h-0.9zM229.2 500.0h0.9v0.9h-0.9zM189.5 484.7h0.9v0.9h-0.9zM236.2 524.9h0.9v0.9h-0.9zM220.9 489.9h0.9v0.9h-0.9zM197.8 511.3h0.9v0.9h-0.9zM231.3 511.2h0.9v0.9h-0.9zM210.6 526.3h0.9v0.9h-0.9zM208.8 525.9h0.9v0.9h-0.9zM200.5 501.1h0.9v0.9h-0.9zM245.9 499.2h0.9v0.9h-0.9zM155.2 490.9h0.9v0.9h-0.9zM204.4 498.5h0.9v0.9h-0.9zM163.5 470.9h0.9v0.9h-0.9zM223.0 506.0h0.9v0.9h-0.9zM218.3 500.0h0.9v0.9h-0.9zM236.0 506.3h0.9v0.9h-0.9zM242.8 502.8h0.9v0.9h-0.9zM244.7 522.6h0.9v0.9h-0.9zM217.6 519.0h0.9v0.9h-0.9zM233.6 490.2h0.9v0.9h-0.9zM200.0 471.9h0.9v0.9h-0.9zM218.7 509.1h0.9v0.9h-0.9zM207.7 527.0h0.9v0.9h-0.9zM250.5 502.4h0.9v0.9h-0.9zM242.5 499.5h0.9v0.9h-0.9zM223.9 497.5h0.9v0.9h-0.9zM202.2 522.9h0.9v0.9h-0.9zM223.2 507.5h0.9v0.9h-0.9zM201.8 510.2h0.9v0.9h-0.9zM210.1 500.7h0.9v0.9h-0.9zM223.9 499.5h0.9v0.9h-0.9zM192.3 503.2h0.9v0.9h-0.9zM218.2 506.5h0.9v0.9h-0.9zM235.9 502.6h0.9v0.9h-0.9zM228.4 521.1h0.9v0.9h-0.9zM202.5 502.8h0.9v0.9h-0.9zM206.9 499.8h0.9v0.9h-0.9zM220.0 490.1h0.9v0.9h-0.9zM245.9 524.9h0.9v0.9h-0.9zM249.1 486.1h0.9v0.9h-0.9zM203.7 528.3h0.9v0.9h-0.9zM229.0 491.6h0.9v0.9h-0.9zM192.7 495.4h0.9v0.9h-0.9zM214.0 501.7h0.9v0.9h-0.9zM239.2 524.5h0.9v0.9h-0.9zM230.5 509.2h0.9v0.9h-0.9zM190.3 498.3h0.9v0.9h-0.9zM249.4 481.1h0.9v0.9h-0.9zM209.4 514.8h0.9v0.9h-0.9zM231.7 527.7h0.9v0.9h-0.9zM224.5 502.9h0.9v0.9h-0.9zM216.0 510.5h0.9v0.9h-0.9zM251.4 472.7h0.9v0.9h-0.9zM189.8 493.1h0.9v0.9h-0.9zM237.9 502.0h0.9v0.9h-0.9zM216.2 496.3h0.9v0.9h-0.9zM199.6 528.3h0.9v0.9h-0.9zM232.5 495.8h0.9v0.9h-0.9zM195.9 515.8h0.9v0.9h-0.9zM197.2 494.9h0.9v0.9h-0.9zM194.0 501.3h0.9v0.9h-0.9zM208.2 490.8h0.9v0.9h-0.9zM220.6 491.6h0.9v0.9h-0.9zM197.0 488.7h0.9v0.9h-0.9zM220.0 494.5h0.9v0.9h-0.9zM224.7 509.5h0.9v0.9h-0.9zM219.2 490.1h0.9v0.9h-0.9zM233.6 510.9h0.9v0.9h-0.9zM218.7 496.3h0.9v0.9h-0.9zM246.8 492.2h0.9v0.9h-0.9zM230.1 522.6h0.9v0.9h-0.9zM191.2 492.1h0.9v0.9h-0.9zM204.8 484.6h0.9v0.9h-0.9zM221.6 500.6h0.9v0.9h-0.9zM247.8 528.7h0.9v0.9h-0.9zM239.8 527.6h0.9v0.9h-0.9zM239.8 507.2h0.9v0.9h-0.9zM215.1 496.1h0.9v0.9h-0.9zM210.7 523.3h0.9v0.9h-0.9zM208.8 489.2h0.9v0.9h-0.9zM205.7 519.7h0.9v0.9h-0.9zM158.1 474.1h0.9v0.9h-0.9zM223.7 499.8h0.9v0.9h-0.9zM246.2 493.3h0.9v0.9h-0.9zM209.0 495.1h0.9v0.9h-0.9zM204.0 471.7h0.9v0.9h-0.9zM240.6 504.9h0.9v0.9h-0.9zM188.7 486.6h0.9v0.9h-0.9zM236.6 492.5h0.9v0.9h-0.9zM213.5 503.3h0.9v0.9h-0.9zM174.4 471.1h0.9v0.9h-0.9zM218.4 507.0h0.9v0.9h-0.9zM251.1 509.9h0.9v0.9h-0.9zM247.9 499.3h0.9v0.9h-0.9zM236.0 498.5h0.9v0.9h-0.9zM214.9 513.1h0.9v0.9h-0.9zM247.2 487.3h0.9v0.9h-0.9zM221.2 493.6h0.9v0.9h-0.9zM229.1 506.2h0.9v0.9h-0.9zM249.0 527.9h0.9v0.9h-0.9zM220.9 521.1h0.9v0.9h-0.9zM232.8 497.2h0.9v0.9h-0.9zM218.5 502.5h0.9v0.9h-0.9zM228.1 511.0h0.9v0.9h-0.9zM208.6 527.8h0.9v0.9h-0.9zM204.2 502.5h0.9v0.9h-0.9zM199.8 494.5h0.9v0.9h-0.9zM222.2 526.6h0.9v0.9h-0.9zM228.8 502.7h0.9v0.9h-0.9zM240.4 522.7h0.9v0.9h-0.9zM233.3 498.8h0.9v0.9h-0.9zM225.5 496.8h0.9v0.9h-0.9zM193.0 495.0h0.9v0.9h-0.9zM223.5 491.4h0.9v0.9h-0.9zM219.2 499.6h0.9v0.9h-0.9zM248.0 481.8h0.9v0.9h-0.9zM205.2 471.6h0.9v0.9h-0.9zM242.7 496.6h0.9v0.9h-0.9zM227.2 507.2h0.9v0.9h-0.9zM243.2 506.6h0.9v0.9h-0.9zM239.6 503.7h0.9v0.9h-0.9zM227.2 516.4h0.9v0.9h-0.9zM191.4 498.4h0.9v0.9h-0.9zM206.5 510.4h0.9v0.9h-0.9zM237.4 530.1h0.9v0.9h-0.9zM190.6 528.0h0.9v0.9h-0.9zM174.5 471.2h0.9v0.9h-0.9zM202.8 528.8h0.9v0.9h-0.9zM244.0 524.5h0.9v0.9h-0.9zM209.8 501.7h0.9v0.9h-0.9zM214.6 489.1h0.9v0.9h-0.9zM229.5 504.5h0.9v0.9h-0.9zM237.2 500.5h0.9v0.9h-0.9zM222.5 494.2h0.9v0.9h-0.9zM225.0 505.2h0.9v0.9h-0.9zM216.3 502.8h0.9v0.9h-0.9zM224.3 489.4h0.9v0.9h-0.9zM201.3 498.6h0.9v0.9h-0.9zM204.5 485.1h0.9v0.9h-0.9zM241.8 491.5h0.9v0.9h-0.9zM155.8 526.8h0.9v0.9h-0.9zM205.3 499.7h0.9v0.9h-0.9zM232.8 511.6h0.9v0.9h-0.9zM200.2 524.9h0.9v0.9h-0.9zM232.9 530.6h0.9v0.9h-0.9zM248.0 504.5h0.9v0.9h-0.9zM226.3 510.6h0.9v0.9h-0.9zM193.8 499.9h0.9v0.9h-0.9zM204.3 482.4h0.9v0.9h-0.9zM221.8 500.6h0.9v0.9h-0.9zM210.6 510.3h0.9v0.9h-0.9zM155.7 496.5h0.9v0.9h-0.9zM249.1 481.8h0.9v0.9h-0.9zM232.4 522.8h0.9v0.9h-0.9zM191.1 496.9h0.9v0.9h-0.9zM247.2 502.8h0.9v0.9h-0.9zM155.5 485.4h0.9v0.9h-0.9zM211.3 511.8h0.9v0.9h-0.9zM156.4 471.8h0.9v0.9h-0.9zM251.2 507.3h0.9v0.9h-0.9zM192.6 529.5h0.9v0.9h-0.9zM185.1 495.1h0.9v0.9h-0.9zM225.1 500.4h0.9v0.9h-0.9zM213.0 517.7h0.9v0.9h-0.9zM230.3 510.7h0.9v0.9h-0.9zM193.5 497.3h0.9v0.9h-0.9zM207.2 505.5h0.9v0.9h-0.9zM238.8 529.7h0.9v0.9h-0.9zM251.3 487.8h0.9v0.9h-0.9zM203.7 469.9h0.9v0.9h-0.9zM233.0 521.3h0.9v0.9h-0.9zM201.2 482.1h0.9v0.9h-0.9zM239.5 508.1h0.9v0.9h-0.9zM222.0 507.5h0.9v0.9h-0.9zM230.6 500.9h0.9v0.9h-0.9zM212.3 499.5h0.9v0.9h-0.9zM228.3 502.1h0.9v0.9h-0.9zM205.5 523.0h0.9v0.9h-0.9zM204.3 505.2h0.9v0.9h-0.9zM211.2 497.5h0.9v0.9h-0.9zM204.4 511.7h0.9v0.9h-0.9zM240.5 501.0h0.9v0.9h-0.9zM231.1 511.2h0.9v0.9h-0.9zM185.4 491.0h0.9v0.9h-0.9zM202.6 487.3h0.9v0.9h-0.9zM251.8 514.5h0.9v0.9h-0.9zM216.0 528.4h0.9v0.9h-0.9zM195.3 490.7h0.9v0.9h-0.9zM200.0 514.1h0.9v0.9h-0.9zM241.7 525.8h0.9v0.9h-0.9zM194.9 484.3h0.9v0.9h-0.9zM221.5 489.3h0.9v0.9h-0.9zM228.1 523.5h0.9v0.9h-0.9zM250.1 478.0h0.9v0.9h-0.9zM249.2 478.9h0.9v0.9h-0.9zM231.5 502.7h0.9v0.9h-0.9zM232.4 489.9h0.9v0.9h-0.9zM225.2 500.4h0.9v0.9h-0.9zM224.7 511.4h0.9v0.9h-0.9zM174.1 471.7h0.9v0.9h-0.9z" fill="#3a3a3a" fill-opacity="0.55"/>
<path d="M206.0 485.1h0.85v0.85h-0.85zM242.3 473.7h0.85v0.85h-0.85zM243.5 480.6h0.85v0.85h-0.85zM226.7 483.5h0.85v0.85h-0.85zM225.6 465.8h0.85v0.85h-0.85zM214.6 472.5h0.85v0.85h-0.85zM236.2 486.3h0.85v0.85h-0.85zM224.3 485.3h0.85v0.85h-0.85zM236.0 483.7h0.85v0.85h-0.85zM221.4 469.0h0.85v0.85h-0.85zM244.9 479.6h0.85v0.85h-0.85zM210.2 478.7h0.85v0.85h-0.85zM222.2 486.4h0.85v0.85h-0.85zM232.7 483.1h0.85v0.85h-0.85zM228.9 483.1h0.85v0.85h-0.85zM211.1 488.9h0.85v0.85h-0.85zM213.4 467.2h0.85v0.85h-0.85zM234.4 482.4h0.85v0.85h-0.85zM232.9 471.1h0.85v0.85h-0.85zM225.5 483.4h0.85v0.85h-0.85zM231.8 486.8h0.85v0.85h-0.85zM209.3 483.6h0.85v0.85h-0.85zM206.1 480.0h0.85v0.85h-0.85zM227.4 466.8h0.85v0.85h-0.85zM222.7 481.0h0.85v0.85h-0.85zM241.1 466.9h0.85v0.85h-0.85zM226.4 484.1h0.85v0.85h-0.85zM210.4 486.4h0.85v0.85h-0.85zM244.0 473.2h0.85v0.85h-0.85zM214.1 468.5h0.85v0.85h-0.85zM234.5 487.5h0.85v0.85h-0.85zM228.4 487.9h0.85v0.85h-0.85zM223.1 480.8h0.85v0.85h-0.85zM206.5 468.2h0.85v0.85h-0.85zM238.7 467.7h0.85v0.85h-0.85zM227.1 465.7h0.85v0.85h-0.85zM210.1 481.2h0.85v0.85h-0.85zM222.2 467.2h0.85v0.85h-0.85zM246.5 466.2h0.85v0.85h-0.85zM213.0 466.8h0.85v0.85h-0.85zM228.1 488.1h0.85v0.85h-0.85zM237.4 467.7h0.85v0.85h-0.85zM245.6 482.0h0.85v0.85h-0.85zM230.3 471.2h0.85v0.85h-0.85zM246.0 474.6h0.85v0.85h-0.85zM226.3 483.1h0.85v0.85h-0.85zM238.8 482.7h0.85v0.85h-0.85zM221.2 482.1h0.85v0.85h-0.85zM213.8 479.8h0.85v0.85h-0.85zM206.3 469.6h0.85v0.85h-0.85zM235.8 465.5h0.85v0.85h-0.85zM241.4 467.2h0.85v0.85h-0.85zM244.5 487.8h0.85v0.85h-0.85zM230.7 485.2h0.85v0.85h-0.85zM244.1 475.7h0.85v0.85h-0.85zM240.6 465.8h0.85v0.85h-0.85zM237.4 468.6h0.85v0.85h-0.85zM245.2 471.1h0.85v0.85h-0.85zM239.1 488.1h0.85v0.85h-0.85zM210.7 466.8h0.85v0.85h-0.85zM217.0 469.2h0.85v0.85h-0.85zM242.4 473.7h0.85v0.85h-0.85zM241.4 478.5h0.85v0.85h-0.85zM242.3 486.5h0.85v0.85h-0.85zM218.3 484.9h0.85v0.85h-0.85zM207.3 480.3h0.85v0.85h-0.85zM227.8 488.6h0.85v0.85h-0.85zM246.2 473.6h0.85v0.85h-0.85zM244.8 487.9h0.85v0.85h-0.85zM213.7 483.9h0.85v0.85h-0.85z" fill="#555" fill-opacity="0.6"/>
<path d="M204.7 469.6h0.8v0.8h-0.8zM244.8 468.2h0.8v0.8h-0.8zM223.9 467.5h0.8v0.8h-0.8zM172.1 466.6h0.8v0.8h-0.8zM165.7 463.8h0.8v0.8h-0.8zM250.2 465.8h0.8v0.8h-0.8zM172.4 466.4h0.8v0.8h-0.8zM165.5 468.1h0.8v0.8h-0.8zM181.0 464.2h0.8v0.8h-0.8zM218.6 471.3h0.8v0.8h-0.8zM161.3 469.2h0.8v0.8h-0.8zM213.5 466.9h0.8v0.8h-0.8zM198.8 462.1h0.8v0.8h-0.8zM192.4 467.2h0.8v0.8h-0.8zM190.9 471.9h0.8v0.8h-0.8zM191.3 470.5h0.8v0.8h-0.8zM234.6 469.9h0.8v0.8h-0.8zM205.3 467.0h0.8v0.8h-0.8zM237.6 463.2h0.8v0.8h-0.8zM180.7 462.1h0.8v0.8h-0.8zM205.2 466.5h0.8v0.8h-0.8zM247.9 471.3h0.8v0.8h-0.8zM197.3 467.0h0.8v0.8h-0.8zM169.7 469.5h0.8v0.8h-0.8zM207.8 463.7h0.8v0.8h-0.8zM240.7 462.4h0.8v0.8h-0.8zM177.7 466.8h0.8v0.8h-0.8zM251.7 463.4h0.8v0.8h-0.8zM184.5 469.9h0.8v0.8h-0.8zM190.9 471.3h0.8v0.8h-0.8zM161.7 464.4h0.8v0.8h-0.8zM188.5 470.5h0.8v0.8h-0.8zM169.4 468.7h0.8v0.8h-0.8zM241.6 471.7h0.8v0.8h-0.8zM234.2 462.5h0.8v0.8h-0.8zM204.4 464.2h0.8v0.8h-0.8zM171.2 464.4h0.8v0.8h-0.8zM227.6 467.8h0.8v0.8h-0.8zM172.0 464.9h0.8v0.8h-0.8zM166.1 471.3h0.8v0.8h-0.8z" fill="#777" fill-opacity="0.6"/>
<path d="M151.5,469.5 H155.4 V530.4 H251.5 V534 H151.5 Z" fill="#8a8a8a" opacity="0.55"/>
<path d="M155.4,469.5 V528.5 Q155.4,530.5 157.5,530.5 H251.5" fill="none" stroke="#2a2a2a" stroke-width="1.1"/>
<rect x="249.3" y="500" width="2" height="32" fill="#333" opacity="0.5"/>
<path d="M156.0,476.0 C156.7,475.6 156.0,474.2 160.0,473.8 C164.0,473.4 173.3,473.6 180.0,473.5 C186.7,473.4 193.3,473.2 200.0,473.0 C206.7,472.8 214.8,472.4 220.0,472.3 C225.2,472.2 228.3,472.2 231.0,472.6 C233.7,473.1 234.6,474.4 236.0,475.0 C237.4,475.6 238.7,475.9 239.5,476.5 C240.3,477.1 240.6,477.8 240.6,478.7 C240.6,479.6 240.1,481.0 239.4,481.6 C238.7,482.2 237.6,482.4 236.2,482.5 C234.8,482.6 232.7,482.4 231.0,482.2 C229.3,482.0 227.8,481.6 226.0,481.2 C224.2,480.8 222.1,480.4 220.0,480.0 C217.9,479.6 215.8,479.1 213.7,478.8 C211.6,478.6 209.6,478.5 207.5,478.5 C205.4,478.5 203.1,478.8 201.0,479.0 C198.9,479.2 196.8,479.6 195.0,480.0 C193.2,480.4 191.5,480.8 190.0,481.5 C188.5,482.2 187.0,483.2 186.0,484.5 C185.0,485.8 184.5,487.6 184.2,489.0 C183.9,490.4 184.0,491.6 184.2,493.0 C184.4,494.4 184.6,496.1 185.5,497.5 C186.4,498.9 188.2,500.4 189.5,501.5 C190.8,502.6 192.4,503.1 193.5,504.2 C194.6,505.3 195.9,506.6 196.2,508.2 C196.5,509.8 195.8,511.8 195.5,513.6 C195.2,515.4 194.8,517.1 194.2,518.9 C193.6,520.7 193.0,522.7 192.2,524.3 C191.4,525.9 189.9,527.6 189.5,528.3" fill="none" stroke="#3a3a3a" stroke-width="0.95"/>
<path d="M193.5,504.2 C193.8,503.1 196.2,502.4 197.6,502.2 C198.9,502.0 200.6,502.2 201.6,502.9 C202.6,503.6 203.6,505.1 203.6,506.2 C203.6,507.3 202.5,508.8 201.6,509.6 C200.7,510.4 199.2,511.0 198.2,510.9 C197.2,510.8 196.3,510.1 195.5,509.0 C194.7,507.9 193.2,505.3 193.5,504.2Z" fill="none" stroke="#3a3a3a" stroke-width="0.95"/>
<path d="M221.2,516.2 C221.6,515.3 222.7,514.9 223.8,515.0 C224.8,515.1 226.5,517.1 227.5,516.9 C228.5,516.7 229.0,514.7 230.0,513.8 C231.0,512.8 232.3,512.1 233.8,511.2 C235.2,510.4 236.9,509.6 238.8,508.8 C240.6,507.9 243.3,507.0 245.0,506.2 C246.7,505.5 247.8,504.2 248.8,504.4 C249.7,504.6 250.4,506.1 250.6,507.5 C250.8,508.9 250.0,510.6 250.0,512.5 C250.0,514.4 250.6,516.9 250.6,518.8 C250.6,520.6 250.5,522.6 250.0,523.8 C249.5,524.9 248.3,525.8 247.5,525.6 C246.7,525.4 245.8,523.3 245.0,522.5 C244.2,521.7 243.8,521.0 242.5,520.6 C241.2,520.2 239.2,520.2 237.5,520.0 C235.8,519.8 234.0,519.4 232.5,519.4 C231.0,519.4 229.8,519.6 228.8,520.0 C227.7,520.4 227.1,521.5 226.2,521.9 C225.4,522.3 224.5,522.7 223.8,522.5 C223.0,522.3 222.3,521.6 221.9,520.6 C221.5,519.6 220.9,517.2 221.2,516.2Z" fill="none" stroke="#3a3a3a" stroke-width="0.95"/>
<path d="M241.2,512.5 C241.6,511.8 243.6,510.4 244.4,510.6 C245.2,510.8 246.2,512.8 246.2,513.8 C246.3,514.7 245.6,516.0 245.0,516.2 C244.4,516.5 243.1,515.6 242.5,515.0 C241.9,514.4 240.9,513.2 241.2,512.5Z" fill="none" stroke="#3a3a3a" stroke-width="0.9"/>
<path d="M158.2,480.9 C158.4,481.3 158.6,482.6 159.6,483.3 C160.6,484.0 162.5,484.6 164.4,485.2 C166.3,485.8 169.4,486.1 171.2,486.7 C173.0,487.3 174.2,487.7 175.0,488.6 C175.8,489.5 176.1,490.8 176.0,492.0 C175.9,493.2 175.3,494.7 174.5,495.8 C173.7,496.9 172.4,497.9 171.2,498.7 C170.0,499.5 168.6,499.9 167.3,500.6 C166.0,501.3 164.5,501.9 163.4,502.8 C162.3,503.7 161.3,504.7 160.5,505.9 C159.7,507.1 159.1,508.3 158.7,510.0 C158.3,511.7 158.2,514.1 158.0,516.2 C157.8,518.4 157.6,520.9 157.4,522.9 C157.2,524.9 157.1,527.1 157.0,528.0" fill="none" stroke="#3a3a3a" stroke-width="0.95"/>
<path d="M158.2,480.9 C158.4,480.4 158.6,478.9 159.6,478.2 C160.6,477.5 162.5,477.1 164.4,476.7 C166.3,476.3 167.5,476.1 171.2,476.0 C174.9,475.9 182.4,475.9 186.5,475.9 C190.6,475.9 193.7,475.6 195.5,475.8 C197.3,476.0 197.7,476.6 197.5,477.2 C197.3,477.8 195.7,478.6 194.5,479.2 C193.3,479.8 191.2,480.5 190.5,480.8" fill="none" stroke="#3a3a3a" stroke-width="0.95"/>
<path d="M162.7,504.2 C163.9,502.8 166.9,502.1 169.4,501.5 C171.9,500.9 174.8,500.8 177.5,500.8 C180.2,500.8 183.5,500.9 185.5,501.5 C187.5,502.1 188.6,502.8 189.5,504.2 C190.4,505.6 190.6,507.6 190.9,509.6 C191.2,511.6 191.7,514.0 191.5,516.2 C191.3,518.4 190.7,521.1 189.5,522.9 C188.3,524.7 186.6,526.1 184.2,527.0 C181.8,527.9 177.7,528.3 174.8,528.3 C171.9,528.3 168.7,527.9 166.7,527.0 C164.7,526.1 163.6,524.7 162.7,522.9 C161.8,521.1 161.5,518.4 161.4,516.2 C161.3,514.0 161.9,511.6 162.1,509.6 C162.3,507.6 161.5,505.6 162.7,504.2Z" fill="none" stroke="#3a3a3a" stroke-width="0.95"/>
<path d="M168.1,509.6 C169.0,507.8 170.3,506.4 172.1,505.5 C173.9,504.6 176.8,504.1 178.8,504.2 C180.8,504.3 182.9,505.1 184.2,506.2 C185.5,507.3 186.4,509.0 186.8,510.9 C187.2,512.8 187.2,515.6 186.8,517.6 C186.4,519.6 185.5,521.6 184.2,522.9 C182.9,524.2 180.8,525.2 178.8,525.6 C176.8,526.0 173.9,525.7 172.1,525.0 C170.3,524.3 169.0,523.1 168.1,521.6 C167.2,520.1 166.7,518.2 166.7,516.2 C166.7,514.2 167.2,511.4 168.1,509.6Z" fill="none" stroke="#3a3a3a" stroke-width="0.95"/>
<path d="M172.1,513.6 C172.4,512.4 173.7,511.0 174.8,510.2 C175.9,509.4 177.6,508.7 178.8,508.9 C180.0,509.1 181.6,510.4 182.2,511.6 C182.8,512.8 182.4,515.0 182.2,516.2 C182.0,517.4 181.8,518.3 180.8,518.9 C179.8,519.5 177.4,519.8 176.1,519.6 C174.8,519.4 173.5,518.6 172.8,517.6 C172.1,516.6 171.8,514.8 172.1,513.6Z" fill="none" stroke="#3a3a3a" stroke-width="0.95"/>
<path d="M170.2,479.9 C170.4,479.3 169.4,478.0 172.1,477.6 C174.8,477.2 183.9,477.1 186.5,477.3 C189.1,477.5 188.4,477.8 187.8,478.6 C187.2,479.4 184.2,481.2 182.7,482.3 C181.2,483.4 179.8,484.5 178.8,485.0 C177.8,485.5 177.9,485.7 176.9,485.4 C175.9,485.1 174.1,484.0 173.1,483.3 C172.1,482.6 171.2,482.0 170.7,481.4 C170.2,480.8 170.0,480.5 170.2,479.9Z" fill="none" stroke="#3a3a3a" stroke-width="0.95"/>
<rect x="29" y="441.25" width="101.25" height="92.5" fill="none" stroke="#555" stroke-width="1.2"/>
<rect x="151" y="441.9" width="101" height="91.85000000000002" fill="none" stroke="#555" stroke-width="1.2"/>
<g transform="translate(24.8,453.6) rotate(-90)"><text x="0" y="0" font-size="4.8" fill="#666" style="stroke:none">10</text><text x="5.2" y="-2.2" font-size="3.6" fill="#666" style="stroke:none">5</text></g>
<g transform="translate(24.8,477.1) rotate(-90)"><text x="0" y="0" font-size="4.8" fill="#666" style="stroke:none">10</text><text x="5.2" y="-2.2" font-size="3.6" fill="#666" style="stroke:none">4</text></g>
<g transform="translate(24.8,500.6) rotate(-90)"><text x="0" y="0" font-size="4.8" fill="#666" style="stroke:none">10</text><text x="5.2" y="-2.2" font-size="3.6" fill="#666" style="stroke:none">3</text></g>
<g transform="translate(24.8,523.6) rotate(-90)"><text x="0" y="0" font-size="4.8" fill="#666" style="stroke:none">10</text><text x="5.2" y="-2.2" font-size="3.6" fill="#666" style="stroke:none">2</text></g>
<g transform="translate(43.6,544.0) rotate(-90)"><text x="0" y="0" font-size="4.8" fill="#666" style="stroke:none">10</text><text x="5.2" y="-2.2" font-size="3.6" fill="#666" style="stroke:none">2</text></g>
<g transform="translate(68.6,544.0) rotate(-90)"><text x="0" y="0" font-size="4.8" fill="#666" style="stroke:none">10</text><text x="5.2" y="-2.2" font-size="3.6" fill="#666" style="stroke:none">3</text></g>
<g transform="translate(93.6,544.0) rotate(-90)"><text x="0" y="0" font-size="4.8" fill="#666" style="stroke:none">10</text><text x="5.2" y="-2.2" font-size="3.6" fill="#666" style="stroke:none">4</text></g>
<g transform="translate(118.6,544.0) rotate(-90)"><text x="0" y="0" font-size="4.8" fill="#666" style="stroke:none">10</text><text x="5.2" y="-2.2" font-size="3.6" fill="#666" style="stroke:none">5</text></g>
<path d="M26.4,451.0h2.6M26.4,474.5h2.6M26.4,498.0h2.6M26.4,521.0h2.6M43.0,533.8v3.6M68.0,533.8v3.6M93.0,533.8v3.6M118.0,533.8v3.6M50.5,533.8v2.4M54.9,533.8v2.4M58.1,533.8v2.4M60.5,533.8v2.4M62.5,533.8v2.4M64.1,533.8v2.4M65.6,533.8v2.4M66.9,533.8v2.4M33.1,533.8v2.4M35.5,533.8v2.4M37.5,533.8v2.4M39.1,533.8v2.4M40.6,533.8v2.4M41.9,533.8v2.4M75.5,533.8v2.4M79.9,533.8v2.4M83.1,533.8v2.4M85.5,533.8v2.4M87.5,533.8v2.4M89.1,533.8v2.4M90.6,533.8v2.4M91.9,533.8v2.4M100.5,533.8v2.4M104.9,533.8v2.4M108.1,533.8v2.4M110.5,533.8v2.4M112.5,533.8v2.4M114.1,533.8v2.4M115.6,533.8v2.4M116.9,533.8v2.4M125.5,533.8v2.4M27.2,467.4h1.8M27.2,463.2h1.8M27.2,460.3h1.8M27.2,458.0h1.8M27.2,456.2h1.8M27.2,454.6h1.8M27.2,453.3h1.8M27.2,452.1h1.8M27.2,444.0h1.8M27.2,490.9h1.8M27.2,486.7h1.8M27.2,483.8h1.8M27.2,481.5h1.8M27.2,479.7h1.8M27.2,478.1h1.8M27.2,476.8h1.8M27.2,475.6h1.8M27.2,514.4h1.8M27.2,510.2h1.8M27.2,507.3h1.8M27.2,505.0h1.8M27.2,503.2h1.8M27.2,501.6h1.8M27.2,500.3h1.8M27.2,499.1h1.8M27.2,533.2h1.8M27.2,530.3h1.8M27.2,528.0h1.8M27.2,526.2h1.8M27.2,524.6h1.8M27.2,523.3h1.8M27.2,522.1h1.8" stroke="#444" stroke-width="0.9" fill="none"/>
<g transform="translate(146.8,453.6) rotate(-90)"><text x="0" y="0" font-size="4.8" fill="#666" style="stroke:none">10</text><text x="5.2" y="-2.2" font-size="3.6" fill="#666" style="stroke:none">5</text></g>
<g transform="translate(146.8,477.1) rotate(-90)"><text x="0" y="0" font-size="4.8" fill="#666" style="stroke:none">10</text><text x="5.2" y="-2.2" font-size="3.6" fill="#666" style="stroke:none">4</text></g>
<g transform="translate(146.8,500.6) rotate(-90)"><text x="0" y="0" font-size="4.8" fill="#666" style="stroke:none">10</text><text x="5.2" y="-2.2" font-size="3.6" fill="#666" style="stroke:none">3</text></g>
<g transform="translate(146.8,523.6) rotate(-90)"><text x="0" y="0" font-size="4.8" fill="#666" style="stroke:none">10</text><text x="5.2" y="-2.2" font-size="3.6" fill="#666" style="stroke:none">2</text></g>
<g transform="translate(165.6,544.0) rotate(-90)"><text x="0" y="0" font-size="4.8" fill="#666" style="stroke:none">10</text><text x="5.2" y="-2.2" font-size="3.6" fill="#666" style="stroke:none">2</text></g>
<g transform="translate(190.6,544.0) rotate(-90)"><text x="0" y="0" font-size="4.8" fill="#666" style="stroke:none">10</text><text x="5.2" y="-2.2" font-size="3.6" fill="#666" style="stroke:none">3</text></g>
<g transform="translate(215.6,544.0) rotate(-90)"><text x="0" y="0" font-size="4.8" fill="#666" style="stroke:none">10</text><text x="5.2" y="-2.2" font-size="3.6" fill="#666" style="stroke:none">4</text></g>
<g transform="translate(240.6,544.0) rotate(-90)"><text x="0" y="0" font-size="4.8" fill="#666" style="stroke:none">10</text><text x="5.2" y="-2.2" font-size="3.6" fill="#666" style="stroke:none">5</text></g>
<path d="M148.4,451.0h2.6M148.4,474.5h2.6M148.4,498.0h2.6M148.4,521.0h2.6M165.0,533.8v3.6M190.0,533.8v3.6M215.0,533.8v3.6M240.0,533.8v3.6M172.5,533.8v2.4M176.9,533.8v2.4M180.1,533.8v2.4M182.5,533.8v2.4M184.5,533.8v2.4M186.1,533.8v2.4M187.6,533.8v2.4M188.9,533.8v2.4M155.1,533.8v2.4M157.5,533.8v2.4M159.5,533.8v2.4M161.1,533.8v2.4M162.6,533.8v2.4M163.9,533.8v2.4M197.5,533.8v2.4M201.9,533.8v2.4M205.1,533.8v2.4M207.5,533.8v2.4M209.5,533.8v2.4M211.1,533.8v2.4M212.6,533.8v2.4M213.9,533.8v2.4M222.5,533.8v2.4M226.9,533.8v2.4M230.1,533.8v2.4M232.5,533.8v2.4M234.5,533.8v2.4M236.1,533.8v2.4M237.6,533.8v2.4M238.9,533.8v2.4M247.5,533.8v2.4M149.2,467.4h1.8M149.2,463.2h1.8M149.2,460.3h1.8M149.2,458.0h1.8M149.2,456.2h1.8M149.2,454.6h1.8M149.2,453.3h1.8M149.2,452.1h1.8M149.2,444.0h1.8M149.2,490.9h1.8M149.2,486.7h1.8M149.2,483.8h1.8M149.2,481.5h1.8M149.2,479.7h1.8M149.2,478.1h1.8M149.2,476.8h1.8M149.2,475.6h1.8M149.2,514.4h1.8M149.2,510.2h1.8M149.2,507.3h1.8M149.2,505.0h1.8M149.2,503.2h1.8M149.2,501.6h1.8M149.2,500.3h1.8M149.2,499.1h1.8M149.2,533.2h1.8M149.2,530.3h1.8M149.2,528.0h1.8M149.2,526.2h1.8M149.2,524.6h1.8M149.2,523.3h1.8M149.2,522.1h1.8" stroke="#444" stroke-width="0.9" fill="none"/>
<rect x="83.75" y="465.00" width="41.25" height="24.40" fill="none" stroke="#333" stroke-width="1.3"/>
<rect x="205.60" y="465.00" width="40.90" height="24.00" fill="none" stroke="#333" stroke-width="1.3"/>
<text x="60.90" y="455.30" font-size="12.5" text-anchor="start" font-weight="normal" fill="#111"  >0.04±0.02%</text>
<text x="177.00" y="455.00" font-size="12.7" text-anchor="start" font-weight="normal" fill="#111"  >0.22±0.01%</text>
<text x="245.40" y="454.60" font-size="11" text-anchor="start" font-weight="normal" fill="#111"  >*</text>
<text x="72.60" y="438.80" font-size="14.2" text-anchor="start" font-weight="normal" fill="#111"  >+/+</text>
<path d="M197.1,434.1H204.2M209.2,434.1H216.6" stroke="#2e2e2e" stroke-width="1.25" fill="none"/>
<path d="M205.6,437.4L208.5,428.7" stroke="#2e2e2e" stroke-width="1.1875" fill="none" stroke-linecap="round"/>
<text transform="translate(14.00,489.40) rotate(-90)" font-size="12.5" text-anchor="middle" fill="#111">c-Kit</text>
<text x="123.60" y="557.50" font-size="12.1" text-anchor="start" font-weight="normal" fill="#111"  >Sca-1</text>
<line x1="16.10" y1="535.50" x2="16.10" y2="446.00" stroke="#666" stroke-width="1.3" />
<polygon points="14.7,447.5 17.5,447.5 16.1,442.2" fill="#222"/>
<line x1="31.25" y1="548.10" x2="241.00" y2="548.10" stroke="#555" stroke-width="1.2" />
<polygon points="241,546.7 241,549.5 246.5,548.1" fill="#222"/></svg>
</body></html>
